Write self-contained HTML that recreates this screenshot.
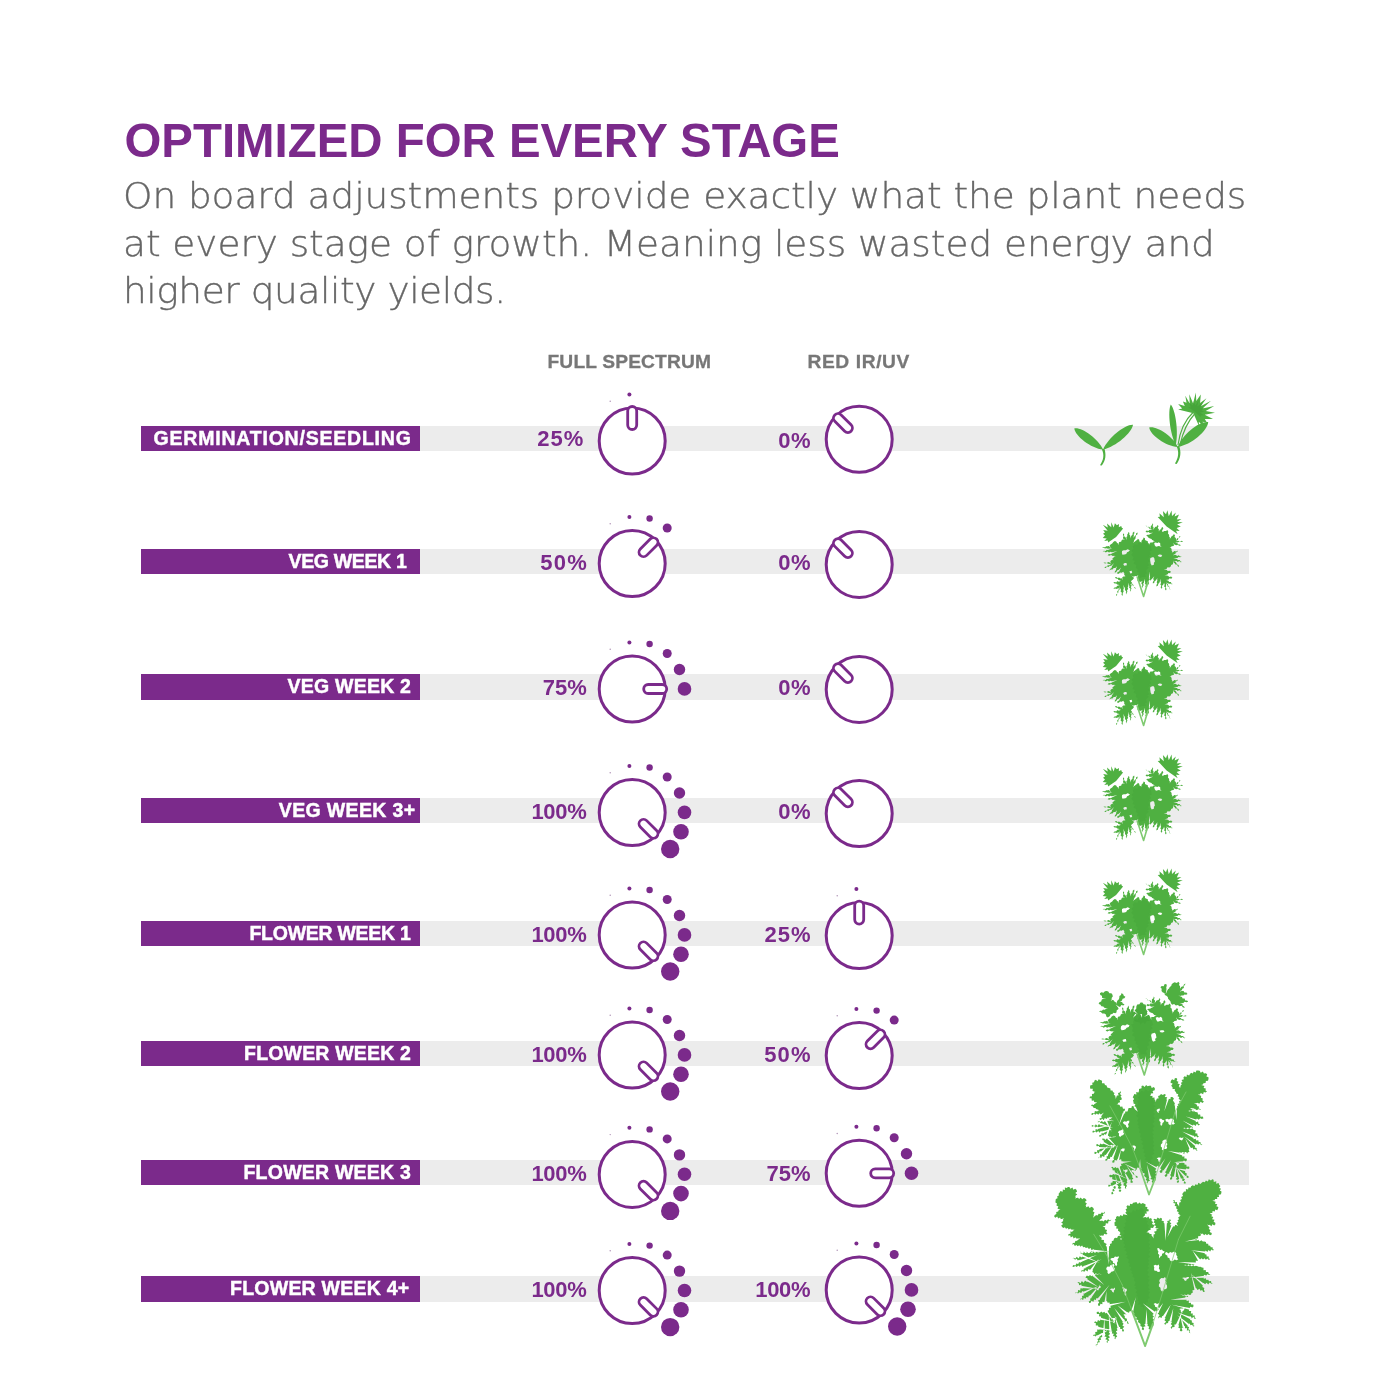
<!DOCTYPE html>
<html lang="en"><head><meta charset="utf-8"><title>Optimized for every stage</title>
<style>
html,body{margin:0;padding:0;background:#fff;}
body{width:1400px;height:1400px;position:relative;overflow:hidden;font-family:"Liberation Sans","DejaVu Sans",sans-serif;}
.abs{position:absolute;white-space:nowrap;}
h1{position:absolute;margin:0;left:124.5px;top:114px;font:bold 47.4px/54px "Liberation Sans",sans-serif;color:#7b2a8b;white-space:nowrap;letter-spacing:0px;}
p.lead{position:absolute;margin:0;left:123px;top:172px;font:200 36px/47.5px "DejaVu Sans","Liberation Sans",sans-serif;color:#666;white-space:nowrap;letter-spacing:-0.06px;-webkit-text-stroke:0.35px #666;transform:scaleX(1.04);transform-origin:0 0;}
.hdr{position:absolute;font:bold 19.2px/20px "Liberation Sans",sans-serif;color:#777;-webkit-text-stroke:0.3px #777;white-space:nowrap;}
.bar{position:absolute;left:141px;width:1108px;height:25.5px;background:#ececec;}
.lab{position:absolute;left:141px;width:278.5px;height:25.5px;background:#7b2a8b;color:#fff;font:bold 19.5px/25.5px "Liberation Sans",sans-serif;letter-spacing:0.65px;-webkit-text-stroke:0.45px #fff;text-align:right;box-sizing:border-box;padding-right:8.5px;white-space:nowrap;}
.pct{position:absolute;letter-spacing:0.3px;font:bold 22px/24px "Liberation Sans",sans-serif;color:#7b2a8b;text-align:right;white-space:nowrap;width:80px;}
svg{position:absolute;left:0;top:0;}
</style></head><body>

<h1>OPTIMIZED FOR EVERY STAGE</h1>
<p class="lead">On board adjustments provide exactly what the plant needs<br>at every stage of growth. Meaning less wasted energy and<br><span style="letter-spacing:-0.4px">higher quality yields.</span></p>
<div class="hdr" style="left:547.5px;top:351.5px;letter-spacing:0.15px">FULL SPECTRUM</div>
<div class="hdr" style="left:807.5px;top:351.5px;letter-spacing:0.6px">RED IR/UV</div>
<div class="bar" style="top:425.5px"></div>
<div class="lab" style="top:425.5px;letter-spacing:0.787px;padding-right:7.86px">GERMINATION/SEEDLING</div>
<div class="pct" style="left:504.4px;top:426.9px;letter-spacing:1.0px">25%</div>
<div class="pct" style="left:731.1px;top:428.8px;letter-spacing:0.5px">0%</div>
<div class="bar" style="top:548.5px"></div>
<div class="lab" style="top:548.5px;letter-spacing:-0.35px;padding-right:13.10px">VEG WEEK 1</div>
<div class="pct" style="left:508.0px;top:550.8px;letter-spacing:1.2px">50%</div>
<div class="pct" style="left:731.1px;top:550.8px;letter-spacing:0.5px">0%</div>
<div class="bar" style="top:674.0px"></div>
<div class="lab" style="top:674.0px;letter-spacing:0.23px;padding-right:8.32px">VEG WEEK 2</div>
<div class="pct" style="left:506.8px;top:676.2px;letter-spacing:0.0px">75%</div>
<div class="pct" style="left:731.1px;top:676.2px;letter-spacing:0.5px">0%</div>
<div class="bar" style="top:797.5px"></div>
<div class="lab" style="top:797.5px;letter-spacing:0.36px;padding-right:3.99px">VEG WEEK 3+</div>
<div class="pct" style="left:506.5px;top:799.8px;letter-spacing:-0.3px">100%</div>
<div class="pct" style="left:731.1px;top:799.8px;letter-spacing:0.5px">0%</div>
<div class="bar" style="top:920.5px"></div>
<div class="lab" style="top:920.5px;letter-spacing:-0.275px;padding-right:8.93px">FLOWER WEEK 1</div>
<div class="pct" style="left:506.5px;top:922.8px;letter-spacing:-0.3px">100%</div>
<div class="pct" style="left:731.6px;top:922.8px;letter-spacing:1.0px">25%</div>
<div class="bar" style="top:1040.5px"></div>
<div class="lab" style="top:1040.5px;letter-spacing:0.175px;padding-right:8.47px">FLOWER WEEK 2</div>
<div class="pct" style="left:506.5px;top:1042.8px;letter-spacing:-0.3px">100%</div>
<div class="pct" style="left:731.8px;top:1042.8px;letter-spacing:1.2px">50%</div>
<div class="bar" style="top:1159.5px"></div>
<div class="lab" style="top:1159.5px;letter-spacing:0.225px;padding-right:8.43px">FLOWER WEEK 3</div>
<div class="pct" style="left:506.5px;top:1161.8px;letter-spacing:-0.3px">100%</div>
<div class="pct" style="left:730.6px;top:1161.8px;letter-spacing:0.0px">75%</div>
<div class="bar" style="top:1276.0px"></div>
<div class="lab" style="top:1276.0px;letter-spacing:0.235px;padding-right:10.11px">FLOWER WEEK 4+</div>
<div class="pct" style="left:506.5px;top:1278.2px;letter-spacing:-0.3px">100%</div>
<div class="pct" style="left:730.3px;top:1278.2px;letter-spacing:-0.3px">100%</div>
<svg width="1400" height="1400" viewBox="0 0 1400 1400">
<g transform="translate(632.2 441.0)"><circle r="33" fill="#fff" stroke="#7b2a8b" stroke-width="3"/><rect x="-4.5" y="-34.5" width="9" height="23" rx="4.5" fill="#fff" stroke="#7b2a8b" stroke-width="2.8" transform="rotate(0)"/><circle cx="-22" cy="-39.8" r="0.7" fill="#a98ab0"/><circle cx="-2.8" cy="-46.6" r="2.0" fill="#7b2a8b"/></g>
<g transform="translate(859.2 439.3)"><circle r="33" fill="#fff" stroke="#7b2a8b" stroke-width="3"/><rect x="-4.5" y="-34.5" width="9" height="23" rx="4.5" fill="#fff" stroke="#7b2a8b" stroke-width="2.8" transform="rotate(-45)"/></g>
<g transform="translate(632.2 563.5)"><circle r="33" fill="#fff" stroke="#7b2a8b" stroke-width="3"/><rect x="-4.5" y="-34.5" width="9" height="23" rx="4.5" fill="#fff" stroke="#7b2a8b" stroke-width="2.8" transform="rotate(45)"/><circle cx="-22" cy="-39.8" r="0.7" fill="#a98ab0"/><circle cx="-2.8" cy="-46.6" r="2.0" fill="#7b2a8b"/><circle cx="17.4" cy="-45.0" r="3.2" fill="#7b2a8b"/><circle cx="35" cy="-35.5" r="4.5" fill="#7b2a8b"/></g>
<g transform="translate(859.2 564.4)"><circle r="33" fill="#fff" stroke="#7b2a8b" stroke-width="3"/><rect x="-4.5" y="-34.5" width="9" height="23" rx="4.5" fill="#fff" stroke="#7b2a8b" stroke-width="2.8" transform="rotate(-45)"/></g>
<g transform="translate(632.2 689.0)"><circle r="33" fill="#fff" stroke="#7b2a8b" stroke-width="3"/><rect x="-4.5" y="-34.5" width="9" height="23" rx="4.5" fill="#fff" stroke="#7b2a8b" stroke-width="2.8" transform="rotate(90)"/><circle cx="-22" cy="-39.8" r="0.7" fill="#a98ab0"/><circle cx="-2.8" cy="-46.6" r="2.0" fill="#7b2a8b"/><circle cx="17.4" cy="-45.0" r="3.2" fill="#7b2a8b"/><circle cx="35" cy="-35.5" r="4.5" fill="#7b2a8b"/><circle cx="47.3" cy="-19.5" r="5.7" fill="#7b2a8b"/><circle cx="52.3" cy="-0.1" r="6.8" fill="#7b2a8b"/></g>
<g transform="translate(859.2 689.4)"><circle r="33" fill="#fff" stroke="#7b2a8b" stroke-width="3"/><rect x="-4.5" y="-34.5" width="9" height="23" rx="4.5" fill="#fff" stroke="#7b2a8b" stroke-width="2.8" transform="rotate(-45)"/></g>
<g transform="translate(632.2 812.5)"><circle r="33" fill="#fff" stroke="#7b2a8b" stroke-width="3"/><rect x="-4.5" y="-34.5" width="9" height="23" rx="4.5" fill="#fff" stroke="#7b2a8b" stroke-width="2.8" transform="rotate(135)"/><circle cx="-22" cy="-39.8" r="0.7" fill="#a98ab0"/><circle cx="-2.8" cy="-46.6" r="2.0" fill="#7b2a8b"/><circle cx="17.4" cy="-45.0" r="3.2" fill="#7b2a8b"/><circle cx="35" cy="-35.5" r="4.5" fill="#7b2a8b"/><circle cx="47.3" cy="-19.5" r="5.7" fill="#7b2a8b"/><circle cx="52.3" cy="-0.1" r="6.8" fill="#7b2a8b"/><circle cx="48.8" cy="19.2" r="7.8" fill="#7b2a8b"/><circle cx="38" cy="36.5" r="9.2" fill="#7b2a8b"/></g>
<g transform="translate(859.2 813.6)"><circle r="33" fill="#fff" stroke="#7b2a8b" stroke-width="3"/><rect x="-4.5" y="-34.5" width="9" height="23" rx="4.5" fill="#fff" stroke="#7b2a8b" stroke-width="2.8" transform="rotate(-45)"/></g>
<g transform="translate(632.2 935.0)"><circle r="33" fill="#fff" stroke="#7b2a8b" stroke-width="3"/><rect x="-4.5" y="-34.5" width="9" height="23" rx="4.5" fill="#fff" stroke="#7b2a8b" stroke-width="2.8" transform="rotate(135)"/><circle cx="-22" cy="-39.8" r="0.7" fill="#a98ab0"/><circle cx="-2.8" cy="-46.6" r="2.0" fill="#7b2a8b"/><circle cx="17.4" cy="-45.0" r="3.2" fill="#7b2a8b"/><circle cx="35" cy="-35.5" r="4.5" fill="#7b2a8b"/><circle cx="47.3" cy="-19.5" r="5.7" fill="#7b2a8b"/><circle cx="52.3" cy="-0.1" r="6.8" fill="#7b2a8b"/><circle cx="48.8" cy="19.2" r="7.8" fill="#7b2a8b"/><circle cx="38" cy="36.5" r="9.2" fill="#7b2a8b"/></g>
<g transform="translate(859.2 935.6)"><circle r="33" fill="#fff" stroke="#7b2a8b" stroke-width="3"/><rect x="-4.5" y="-34.5" width="9" height="23" rx="4.5" fill="#fff" stroke="#7b2a8b" stroke-width="2.8" transform="rotate(0)"/><circle cx="-22" cy="-39.8" r="0.7" fill="#a98ab0"/><circle cx="-2.8" cy="-46.6" r="2.0" fill="#7b2a8b"/></g>
<g transform="translate(632.2 1055.0)"><circle r="33" fill="#fff" stroke="#7b2a8b" stroke-width="3"/><rect x="-4.5" y="-34.5" width="9" height="23" rx="4.5" fill="#fff" stroke="#7b2a8b" stroke-width="2.8" transform="rotate(135)"/><circle cx="-22" cy="-39.8" r="0.7" fill="#a98ab0"/><circle cx="-2.8" cy="-46.6" r="2.0" fill="#7b2a8b"/><circle cx="17.4" cy="-45.0" r="3.2" fill="#7b2a8b"/><circle cx="35" cy="-35.5" r="4.5" fill="#7b2a8b"/><circle cx="47.3" cy="-19.5" r="5.7" fill="#7b2a8b"/><circle cx="52.3" cy="-0.1" r="6.8" fill="#7b2a8b"/><circle cx="48.8" cy="19.2" r="7.8" fill="#7b2a8b"/><circle cx="38" cy="36.5" r="9.2" fill="#7b2a8b"/></g>
<g transform="translate(859.2 1055.6)"><circle r="33" fill="#fff" stroke="#7b2a8b" stroke-width="3"/><rect x="-4.5" y="-34.5" width="9" height="23" rx="4.5" fill="#fff" stroke="#7b2a8b" stroke-width="2.8" transform="rotate(45)"/><circle cx="-22" cy="-39.8" r="0.7" fill="#a98ab0"/><circle cx="-2.8" cy="-46.6" r="2.0" fill="#7b2a8b"/><circle cx="17.4" cy="-45.0" r="3.2" fill="#7b2a8b"/><circle cx="35" cy="-35.5" r="4.5" fill="#7b2a8b"/></g>
<g transform="translate(632.2 1174.4)"><circle r="33" fill="#fff" stroke="#7b2a8b" stroke-width="3"/><rect x="-4.5" y="-34.5" width="9" height="23" rx="4.5" fill="#fff" stroke="#7b2a8b" stroke-width="2.8" transform="rotate(135)"/><circle cx="-22" cy="-39.8" r="0.7" fill="#a98ab0"/><circle cx="-2.8" cy="-46.6" r="2.0" fill="#7b2a8b"/><circle cx="17.4" cy="-45.0" r="3.2" fill="#7b2a8b"/><circle cx="35" cy="-35.5" r="4.5" fill="#7b2a8b"/><circle cx="47.3" cy="-19.5" r="5.7" fill="#7b2a8b"/><circle cx="52.3" cy="-0.1" r="6.8" fill="#7b2a8b"/><circle cx="48.8" cy="19.2" r="7.8" fill="#7b2a8b"/><circle cx="38" cy="36.5" r="9.2" fill="#7b2a8b"/></g>
<g transform="translate(859.2 1173.3)"><circle r="33" fill="#fff" stroke="#7b2a8b" stroke-width="3"/><rect x="-4.5" y="-34.5" width="9" height="23" rx="4.5" fill="#fff" stroke="#7b2a8b" stroke-width="2.8" transform="rotate(90)"/><circle cx="-22" cy="-39.8" r="0.7" fill="#a98ab0"/><circle cx="-2.8" cy="-46.6" r="2.0" fill="#7b2a8b"/><circle cx="17.4" cy="-45.0" r="3.2" fill="#7b2a8b"/><circle cx="35" cy="-35.5" r="4.5" fill="#7b2a8b"/><circle cx="47.3" cy="-19.5" r="5.7" fill="#7b2a8b"/><circle cx="52.3" cy="-0.1" r="6.8" fill="#7b2a8b"/></g>
<g transform="translate(632.2 1290.6)"><circle r="33" fill="#fff" stroke="#7b2a8b" stroke-width="3"/><rect x="-4.5" y="-34.5" width="9" height="23" rx="4.5" fill="#fff" stroke="#7b2a8b" stroke-width="2.8" transform="rotate(135)"/><circle cx="-22" cy="-39.8" r="0.7" fill="#a98ab0"/><circle cx="-2.8" cy="-46.6" r="2.0" fill="#7b2a8b"/><circle cx="17.4" cy="-45.0" r="3.2" fill="#7b2a8b"/><circle cx="35" cy="-35.5" r="4.5" fill="#7b2a8b"/><circle cx="47.3" cy="-19.5" r="5.7" fill="#7b2a8b"/><circle cx="52.3" cy="-0.1" r="6.8" fill="#7b2a8b"/><circle cx="48.8" cy="19.2" r="7.8" fill="#7b2a8b"/><circle cx="38" cy="36.5" r="9.2" fill="#7b2a8b"/></g>
<g transform="translate(859.2 1290.0)"><circle r="33" fill="#fff" stroke="#7b2a8b" stroke-width="3"/><rect x="-4.5" y="-34.5" width="9" height="23" rx="4.5" fill="#fff" stroke="#7b2a8b" stroke-width="2.8" transform="rotate(135)"/><circle cx="-22" cy="-39.8" r="0.7" fill="#a98ab0"/><circle cx="-2.8" cy="-46.6" r="2.0" fill="#7b2a8b"/><circle cx="17.4" cy="-45.0" r="3.2" fill="#7b2a8b"/><circle cx="35" cy="-35.5" r="4.5" fill="#7b2a8b"/><circle cx="47.3" cy="-19.5" r="5.7" fill="#7b2a8b"/><circle cx="52.3" cy="-0.1" r="6.8" fill="#7b2a8b"/><circle cx="48.8" cy="19.2" r="7.8" fill="#7b2a8b"/><circle cx="38" cy="36.5" r="9.2" fill="#7b2a8b"/></g>
<path d="M1103.1,449.6C1098.0,438.4 1081.9,427.1 1074.3,428.4C1075.3,436.0 1090.9,448.1 1103.1,449.6ZM1103.1,449.6C1115.9,446.8 1132.0,432.8 1133.0,424.8C1125.0,424.3 1108.3,437.6 1103.1,449.6ZM1101.9,449.5 C1104.5,455 1103.5,460 1100,465.3 L1101.8,465.6 C1105.8,460 1106.3,455 1104.4,448.5ZM1177.8,446.9C1172.7,436.0 1156.7,425.7 1149.2,427.4C1150.3,435.0 1165.8,446.1 1177.8,446.9ZM1177.8,446.9C1191.4,444.9 1207.7,430.7 1208.2,422.0C1199.5,420.7 1182.5,434.0 1177.8,446.9ZM1175.8,445.0C1178.7,432.3 1175.6,410.0 1170.8,404.4C1167.5,411.0 1169.9,433.4 1175.8,445.0ZM1176.6,446.5 C1179.3,452 1178.5,458 1174.9,463.6 L1176.7,464 C1180.8,458 1181.3,452 1179.2,446Z" fill="#4fb041"/><path d="M1178,445 C1180,430 1185,420 1193,412.5 M1180,445 C1183,431 1188,421 1195,413.5" stroke="#4fb041" stroke-width="1.1" fill="none"/><path d="M1193.4,413.2 1178.1,409.6 1182.2,408.6 1178.1,404.1 1184.8,406.1 1182.9,401.4 1186.5,402.7 1185.3,395.8 1189.7,403.5 1189.3,394.2 1193.1,403.6 1195.8,392.6 1196.3,400.9 1200.8,394.6 1200.1,402.9 1206.5,398.3 1200.7,406.3 1211.0,400.8 1202.5,408.5 1214.2,406.1 1205.7,411.1 1215.0,412.8 1204.7,414.7 1213.0,418.9 1204.8,418.9 1206.9,422.6 1202.6,421.8 1204.5,427.2 1198.8,421.8 1199.2,426.5Z" fill="#4fb041"/><path d="M1194.5,411.5 1188.0,407.1 1190.8,407.4 1189.3,402.8 1192.8,405.6 1193.7,400.9 1195.4,405.4 1198.6,400.4 1197.3,406.6 1203.1,401.9 1200.4,407.7 1204.5,407.7 1201.5,410.3 1204.4,411.8 1200.0,412.5 1203.9,415.3 1200.8,415.4 1200.3,417.1Z" fill="#3b9a32" opacity="0.45"/>
<mask id="pm1" maskUnits="userSpaceOnUse" x="1092" y="501" width="100" height="100"><path d="M1137.9,575.6 1136.6,576.3 1135.1,576.0 1133.8,576.7 1133.9,578.2 1132.9,579.4 1133.3,580.9 1132.2,582.1 1132.2,583.6 1133.3,584.8 1133.7,586.5 1135.2,587.5 1135.9,589.0 1134.5,588.0 1134.0,586.4 1132.5,585.5 1131.7,584.1 1131.9,585.6 1130.8,587.0 1131.5,588.6 1130.8,590.1 1130.9,591.7 1130.0,590.4 1130.5,588.7 1129.0,587.6 1129.3,586.0 1128.4,584.7 1128.8,586.2 1127.6,587.5 1128.2,589.0 1127.0,590.3 1127.4,591.8 1126.6,593.1 1126.6,594.5 1125.8,593.1 1126.2,591.3 1124.9,590.0 1125.1,588.2 1124.2,586.8 1124.4,588.5 1123.2,589.8 1123.7,591.5 1122.7,592.9 1122.8,594.5 1122.3,596.0 1121.5,594.5 1121.9,592.8 1120.6,591.5 1120.9,589.7 1120.2,588.3 1119.9,589.8 1118.4,590.7 1118.4,592.4 1116.9,593.2 1117.2,595.0 1116.0,596.1 1116.2,594.4 1117.5,593.1 1117.2,591.3 1118.6,590.1 1118.6,588.4 1117.0,589.1 1115.1,588.5 1113.4,589.1 1114.4,587.6 1116.3,587.2 1117.3,585.5 1118.9,584.8 1117.3,584.7 1116.2,583.4 1114.6,583.6 1113.3,582.6 1114.7,582.1 1116.2,582.5 1117.4,581.1 1119.0,581.8 1120.3,581.0 1118.6,580.5 1117.8,578.8 1115.9,578.5 1114.9,577.2 1116.3,576.9 1117.6,578.0 1119.1,577.4 1120.4,578.5 1121.8,578.1 1123.2,576.6 1125.3,576.0 1124.2,574.9 1124.3,573.2 1123.1,572.1 1121.7,572.8 1120.0,572.4 1118.8,573.8 1117.2,573.7 1117.5,572.1 1119.3,571.5 1119.3,569.8 1120.4,568.7 1119.2,570.0 1117.3,570.3 1116.3,572.0 1114.8,572.8 1114.9,571.3 1116.1,570.1 1116.1,568.6 1116.9,567.3 1115.5,568.1 1113.7,568.0 1112.5,569.4 1110.8,569.5 1109.5,570.4 1110.0,568.9 1111.6,568.1 1111.7,566.4 1112.7,565.3 1111.4,566.1 1109.8,565.7 1108.7,567.1 1107.0,566.4 1105.9,567.9 1104.3,567.8 1105.3,566.7 1106.9,566.6 1107.7,565.2 1109.4,565.2 1110.3,563.9 1108.4,564.2 1106.9,563.1 1105.1,563.4 1103.4,562.8 1105.0,562.4 1106.7,562.9 1108.3,562.1 1109.9,562.4 1110.7,560.8 1112.1,559.7 1112.6,558.2 1113.9,557.2 1114.5,555.8 1112.7,556.0 1111.1,555.1 1109.3,555.8 1107.6,555.2 1108.9,553.9 1110.9,554.3 1112.1,552.7 1113.8,552.4 1112.2,552.8 1110.7,551.7 1109.0,552.4 1107.5,551.4 1105.8,552.5 1104.3,551.2 1102.7,551.7 1103.8,550.7 1105.6,551.0 1106.7,549.8 1108.3,549.8 1109.6,549.1 1108.0,549.3 1106.6,548.3 1105.0,548.6 1103.6,547.8 1102.0,547.9 1103.4,547.1 1105.0,547.3 1106.3,546.3 1107.9,546.3 1109.3,545.7 1110.6,544.4 1112.2,543.5 1113.3,542.1 1114.8,541.0 1116.2,541.6 1117.1,543.0 1118.4,543.6 1119.2,542.1 1121.1,541.8 1121.8,540.1 1123.2,539.3 1122.9,537.8 1123.6,536.3 1122.9,534.8 1123.3,533.3 1124.2,534.6 1124.0,536.3 1125.8,537.2 1125.8,538.8 1126.0,537.3 1127.3,536.2 1127.2,534.5 1128.2,533.3 1128.5,531.8 1129.4,533.1 1129.3,534.7 1130.7,535.8 1130.7,537.4 1131.3,535.8 1132.6,534.6 1132.7,532.7 1134.1,531.6 1134.5,533.0 1133.7,534.4 1134.3,535.9 1133.8,537.3 1134.6,535.9 1136.0,535.1 1136.1,533.2 1137.6,532.4 1137.5,534.2 1135.9,535.4 1135.7,537.1 1135.4,538.8 1134.1,540.2 1133.9,541.9 1135.0,540.6 1136.9,540.2 1137.9,538.8 1139.2,539.7 1139.5,541.5 1140.9,542.3 1141.5,540.6 1143.0,539.3 1143.6,537.6 1145.0,538.2 1145.0,540.1 1146.5,540.7 1147.8,541.3 1148.0,543.1 1149.3,543.8 1150.5,542.4 1152.6,542.4 1153.8,541.0 1152.4,540.4 1151.5,539.0 1150.0,538.5 1148.5,537.8 1147.6,536.4 1146.2,535.6 1147.5,534.8 1149.1,534.8 1150.2,533.7 1151.7,533.4 1150.0,533.4 1148.8,531.9 1146.9,532.4 1145.5,531.5 1146.6,530.4 1148.5,531.0 1149.4,529.3 1151.0,529.3 1149.5,528.7 1148.5,527.3 1146.9,527.0 1145.9,525.6 1144.4,525.0 1146.1,525.5 1147.2,527.0 1149.2,526.8 1150.4,528.1 1150.5,526.3 1152.1,525.0 1152.3,523.3 1153.2,524.5 1152.6,526.2 1153.7,527.3 1153.9,528.8 1154.8,527.1 1156.9,526.5 1157.7,524.8 1158.5,526.2 1157.7,527.9 1158.9,529.3 1158.7,530.9 1159.5,529.7 1161.1,529.3 1161.5,527.7 1162.8,527.0 1163.3,528.7 1162.1,530.3 1162.6,532.1 1164.1,531.0 1166.0,531.1 1167.4,530.0 1168.3,531.7 1167.9,533.5 1169.1,534.8 1169.2,536.7 1170.3,538.0 1171.3,536.5 1172.9,535.6 1173.9,534.0 1175.0,535.2 1174.5,537.0 1175.8,538.0 1176.1,539.5 1176.9,538.2 1178.7,538.2 1179.1,536.4 1180.5,535.9 1179.9,537.3 1178.4,538.0 1178.1,539.7 1177.1,540.7 1178.6,540.7 1180.0,541.7 1181.7,540.8 1183.2,541.5 1181.5,542.1 1179.6,541.3 1178.0,542.5 1176.3,542.3 1177.8,542.7 1178.2,544.4 1179.9,544.6 1180.9,545.6 1179.2,545.7 1177.8,544.8 1176.1,545.2 1174.6,544.6 1173.5,545.9 1171.7,546.2 1170.5,547.4 1171.6,548.8 1171.6,550.6 1172.5,552.0 1174.2,550.9 1176.2,551.4 1177.9,550.5 1177.3,551.9 1175.7,552.5 1175.6,554.2 1174.2,555.0 1175.8,554.8 1177.1,556.1 1178.8,555.3 1180.1,556.4 1181.7,556.2 1180.3,557.2 1178.5,557.1 1177.2,558.3 1175.5,558.5 1176.9,558.9 1178.0,560.0 1179.7,560.0 1180.6,561.4 1182.0,561.9 1180.6,562.2 1179.2,561.1 1177.8,562.0 1176.4,561.0 1175.0,561.3 1176.4,562.4 1176.7,564.3 1178.5,565.1 1179.1,566.9 1177.8,566.2 1177.1,564.8 1175.5,564.6 1174.7,563.2 1173.3,562.6 1172.9,564.2 1171.2,564.9 1170.7,566.4 1169.4,567.5 1167.5,567.3 1166.5,569.0 1164.8,569.1 1166.5,569.4 1167.7,570.9 1169.6,570.8 1171.0,571.8 1170.0,573.0 1168.3,573.1 1167.6,574.7 1166.2,575.2 1167.9,575.5 1169.2,576.9 1171.1,576.6 1172.4,577.8 1171.2,578.8 1169.5,578.3 1168.5,579.9 1166.9,579.9 1168.3,580.4 1169.1,581.9 1170.9,581.9 1171.5,583.7 1173.1,584.1 1171.5,584.2 1170.1,583.5 1168.6,584.0 1167.1,583.4 1168.1,584.6 1168.3,586.1 1169.6,587.1 1169.7,588.7 1170.8,589.7 1169.4,588.9 1169.3,587.1 1167.6,586.5 1167.3,584.9 1165.9,584.1 1166.4,585.7 1165.7,587.3 1166.5,588.9 1166.0,590.6 1165.0,589.3 1165.4,587.6 1164.1,586.4 1164.6,584.6 1163.8,583.3 1163.5,584.8 1161.9,585.7 1162.3,587.7 1161.1,588.8 1160.7,587.3 1161.3,585.7 1160.3,584.3 1161.0,582.7 1160.5,581.2 1159.8,582.7 1158.3,583.7 1158.0,585.5 1156.5,586.5 1156.4,585.1 1157.3,583.6 1156.6,582.1 1157.3,580.7 1157.2,579.2 1156.4,580.5 1154.7,581.1 1154.3,582.8 1152.9,583.6 1152.8,582.0 1153.9,580.4 1153.0,578.6 1153.7,577.1 1153.0,578.8 1151.1,579.4 1150.1,580.8 1149.5,579.4 1149.8,577.8 1148.8,576.5 1149.1,574.9 1149.4,576.5 1148.8,578.0 1149.4,579.6 1148.4,581.2 1149.0,582.7 1148.8,584.3 1147.4,585.1 1147.2,586.6 1146.3,587.7 1145.3,586.5 1146.0,584.8 1144.7,583.7 1145.1,582.1 1144.4,580.8 1144.3,582.3 1143.2,583.6 1143.7,585.3 1142.7,586.6 1142.6,588.1 1141.7,586.6 1142.5,584.9 1141.3,583.5 1141.5,581.9 1139.7,581.8 1137.9,581.3 1137.3,579.9 1138.1,578.4 1137.3,577.0ZM1116.1,536.9 1108.1,542.6 1107.8,540.5 1104.2,540.9 1106.7,538.5 1102.7,538.1 1105.0,535.5 1103.0,533.7 1105.0,532.5 1103.2,530.0 1107.7,530.8 1102.8,524.8 1107.8,527.6 1107.0,523.5 1111.3,527.3 1111.2,522.2 1113.7,527.5 1114.9,523.3 1116.9,525.3 1119.0,524.0 1118.8,527.2 1121.2,526.0 1121.8,527.7 1123.1,528.6ZM1166.6,526.5 1157.7,516.9 1159.9,516.8 1159.4,513.2 1163.8,517.3 1162.9,511.0 1166.0,514.3 1167.4,510.2 1168.8,516.3 1171.6,510.6 1172.0,515.9 1175.8,512.6 1174.6,516.5 1179.0,514.5 1176.8,519.4 1181.4,519.1 1177.1,521.9 1182.8,522.3 1177.1,524.6 1180.8,526.4 1176.6,527.9 1179.7,530.9 1176.0,530.7 1177.7,534.3Z" fill="#fff"/><path d="M1122.0,551.1 1123.7,550.2 1125.8,550.2 1127.5,549.2 1129.9,550.2 1128.8,551.6 1127.1,552.3 1126.2,553.9 1124.4,554.6 1122.4,554.8 1121.9,553.0ZM1154.2,543.1 1155.6,542.4 1157.4,543.0 1158.8,542.2 1160.3,543.4 1160.2,545.6 1161.6,546.8 1158.8,545.9 1156.0,546.8 1154.7,545.2ZM1150.4,558.1 1153.2,557.1 1154.3,558.3 1154.6,559.9 1154.9,561.5 1153.8,563.0 1154.1,564.6 1151.8,565.5 1150.7,563.8 1150.4,561.8 1150.1,559.9ZM1123.2,563.9 1124.8,563.0 1126.5,562.9 1126.9,565.2 1124.2,565.7ZM1129.4,571.2 1131.7,570.7 1132.2,573.0 1130.3,573.5ZM1130.9,581.2 1132.5,579.8 1134.6,579.8 1135.6,581.8 1136.0,584.0 1133.7,583.5 1132.0,582.7ZM1157.7,555.2 1159.5,554.5 1161.4,554.8 1162.3,556.1 1160.6,557.0 1158.6,556.6ZM1137.3,578.3L1138.3,574.7L1136.3,577.8ZM1136.1,578.1L1131.4,575.5L1135.4,578.9ZM1134.6,583.0L1129.3,584.6L1134.6,584.0ZM1132.9,586.5L1130.9,583.0L1132.0,586.8ZM1129.3,587.3L1128.7,582.4L1128.2,587.5ZM1125.0,589.5L1123.5,584.7L1123.8,589.6ZM1120.4,591.0L1119.8,585.9L1119.5,590.9ZM1116.7,590.3L1119.5,587.9L1116.0,589.2ZM1116.3,585.7L1119.9,585.2L1116.1,584.5ZM1117.5,581.2L1121.3,581.1L1117.7,579.8ZM1120.5,576.4L1122.8,580.2L1121.7,575.9ZM1122.5,576.1L1125.7,576.6L1122.7,574.9ZM1122.2,574.8L1123.8,571.6L1121.1,574.0ZM1119.1,571.1L1121.2,567.4L1118.2,570.3ZM1115.5,569.6L1117.1,566.1L1114.7,569.0ZM1111.1,567.5L1114.1,563.1L1110.3,566.7ZM1107.8,565.1L1111.4,564.2L1107.5,563.8ZM1108.3,560.8L1111.6,564.2L1109.3,560.3ZM1110.3,559.2L1113.7,560.3L1111.0,558.2ZM1112.1,557.3L1115.9,556.0L1111.8,556.2ZM1111.3,553.7L1117.2,550.9L1111.1,552.5ZM1107.0,549.9L1112.4,548.4L1106.8,548.8ZM1108.3,545.1L1110.9,548.5L1109.3,544.5ZM1117.0,541.4L1119.1,545.6L1118.0,541.0ZM1121.0,538.4L1125.1,539.9L1121.7,537.5ZM1125.2,536.1L1126.7,540.2L1126.2,536.1ZM1130.2,534.7L1130.5,538.4L1131.3,534.7ZM1134.0,534.5L1133.4,538.1L1135.2,534.9ZM1135.2,539.5L1133.0,543.1L1136.2,540.4ZM1139.9,539.8L1141.4,543.1L1141.3,539.6ZM1148.7,541.1L1150.0,545.1L1149.9,541.1ZM1151.1,541.2L1155.2,541.4L1151.3,539.8ZM1149.1,534.3L1153.1,532.7L1149.0,532.9ZM1148.3,529.9L1152.8,529.9L1148.3,528.7ZM1149.2,525.6L1150.6,529.8L1150.5,525.3ZM1154.0,526.0L1153.2,530.0L1155.2,526.3ZM1159.2,528.2L1158.9,531.7L1160.1,528.5ZM1163.8,529.6L1162.0,532.3L1164.6,530.2ZM1170.4,535.3L1169.7,539.4L1171.6,535.6ZM1176.1,536.7L1176.6,540.9L1177.2,537.0ZM1179.2,539.0L1175.8,541.2L1179.8,540.2ZM1179.0,542.5L1175.0,542.6L1178.7,543.7ZM1175.9,546.4L1172.8,542.5L1174.9,546.8ZM1173.3,547.4L1169.5,547.6L1173.0,548.7ZM1173.7,549.5L1171.7,553.0L1174.8,550.4ZM1176.4,553.3L1172.7,555.3L1176.9,554.4ZM1178.2,558.0L1173.3,558.1L1178.1,559.2ZM1177.6,562.1L1173.9,561.1L1177.1,563.0ZM1174.3,565.2L1173.1,560.3L1173.2,565.3ZM1167.5,568.9L1163.3,569.3L1167.4,569.8ZM1168.8,574.2L1164.5,575.2L1169.0,575.4ZM1169.6,579.4L1165.6,579.9L1169.6,580.6ZM1169.7,584.3L1166.1,582.2L1169.2,585.2ZM1167.5,586.4L1166.1,582.7L1166.1,586.9ZM1164.0,586.0L1164.4,582.5L1162.9,585.9ZM1160.3,584.0L1160.8,578.6L1159.2,583.6ZM1156.6,581.9L1157.4,578.0L1155.4,581.3ZM1152.8,579.7L1154.3,576.2L1151.9,579.1ZM1150.0,577.3L1149.4,571.4L1149.0,577.5ZM1145.2,583.5L1144.8,578.8L1143.8,583.5ZM1140.4,583.6L1142.9,580.8L1139.5,582.5Z" fill="#000"/></mask><g mask="url(#pm1)"><rect x="1092" y="501" width="100" height="100" fill="#4fb041"/><path d="M1134.3,544.2 1137.2,544.9 1138.6,542.8 1141.3,544.1 1143.4,541.1 1144.8,542.4 1147.4,543.3 1147.7,545.6 1150.7,545.7 1151.1,547.7 1151.7,550.7 1149.6,551.2 1151.0,554.5 1148.8,554.9 1150.0,556.3 1148.2,558.7 1149.8,561.7 1147.6,562.5 1149.3,565.2 1147.3,566.2 1148.7,567.8 1146.0,570.2 1146.8,573.5 1144.9,574.2 1146.0,577.1 1142.7,576.7 1139.4,577.9 1140.4,576.0 1138.6,574.7 1139.2,572.4 1137.1,571.9 1137.8,569.0 1135.9,567.9 1136.3,565.1 1133.5,563.5 1135.1,561.0 1132.6,560.0 1133.7,557.0 1131.3,554.8 1133.0,552.7 1131.5,550.4 1133.7,549.1 1132.9,546.8Z" fill="#3b9a32" opacity="0.25"/></g><path d="M1143.6,596.4L1137.2,577.1M1143.6,596.4L1147.9,582.1" stroke="#7fca70" stroke-width="1.6" fill="none" stroke-linecap="round"/>
<mask id="pm2" maskUnits="userSpaceOnUse" x="1092" y="630" width="100" height="100"><path d="M1137.9,704.6 1136.6,705.3 1135.1,705.0 1133.8,705.7 1133.9,707.2 1132.9,708.4 1133.3,709.9 1132.2,711.1 1132.2,712.6 1133.3,713.8 1133.7,715.5 1135.2,716.5 1135.9,718.0 1134.5,717.0 1134.0,715.4 1132.5,714.5 1131.7,713.1 1131.9,714.6 1130.8,716.0 1131.5,717.6 1130.8,719.1 1130.9,720.7 1130.0,719.4 1130.5,717.7 1129.0,716.6 1129.3,715.0 1128.4,713.7 1128.8,715.2 1127.6,716.5 1128.2,718.0 1127.0,719.3 1127.4,720.8 1126.6,722.1 1126.6,723.5 1125.8,722.1 1126.2,720.3 1124.9,719.0 1125.1,717.2 1124.2,715.8 1124.4,717.5 1123.2,718.8 1123.7,720.5 1122.7,721.9 1122.8,723.5 1122.3,725.0 1121.5,723.5 1121.9,721.8 1120.6,720.5 1120.9,718.7 1120.2,717.3 1119.9,718.8 1118.4,719.7 1118.4,721.4 1116.9,722.2 1117.2,724.0 1116.0,725.1 1116.2,723.4 1117.5,722.1 1117.2,720.3 1118.6,719.1 1118.6,717.4 1117.0,718.1 1115.1,717.5 1113.4,718.1 1114.4,716.6 1116.3,716.2 1117.3,714.5 1118.9,713.8 1117.3,713.7 1116.2,712.4 1114.6,712.6 1113.3,711.6 1114.7,711.1 1116.2,711.5 1117.4,710.1 1119.0,710.8 1120.3,710.0 1118.6,709.5 1117.8,707.8 1115.9,707.5 1114.9,706.2 1116.3,705.9 1117.6,707.0 1119.1,706.4 1120.4,707.5 1121.8,707.1 1123.2,705.6 1125.3,705.0 1124.2,703.9 1124.3,702.2 1123.1,701.1 1121.7,701.8 1120.0,701.4 1118.8,702.8 1117.2,702.7 1117.5,701.1 1119.3,700.5 1119.3,698.8 1120.4,697.7 1119.2,699.0 1117.3,699.3 1116.3,701.0 1114.8,701.8 1114.9,700.3 1116.1,699.1 1116.1,697.6 1116.9,696.3 1115.5,697.1 1113.7,697.0 1112.5,698.4 1110.8,698.5 1109.5,699.4 1110.0,697.9 1111.6,697.1 1111.7,695.4 1112.7,694.3 1111.4,695.1 1109.8,694.7 1108.7,696.1 1107.0,695.4 1105.9,696.9 1104.3,696.8 1105.3,695.7 1106.9,695.6 1107.7,694.2 1109.4,694.2 1110.3,692.9 1108.4,693.2 1106.9,692.1 1105.1,692.4 1103.4,691.8 1105.0,691.4 1106.7,691.9 1108.3,691.1 1109.9,691.4 1110.7,689.8 1112.1,688.7 1112.6,687.2 1113.9,686.2 1114.5,684.8 1112.7,685.0 1111.1,684.1 1109.3,684.8 1107.6,684.2 1108.9,682.9 1110.9,683.3 1112.1,681.7 1113.8,681.4 1112.2,681.8 1110.7,680.7 1109.0,681.4 1107.5,680.4 1105.8,681.5 1104.3,680.2 1102.7,680.7 1103.8,679.7 1105.6,680.0 1106.7,678.8 1108.3,678.8 1109.6,678.1 1108.0,678.3 1106.6,677.3 1105.0,677.6 1103.6,676.8 1102.0,676.9 1103.4,676.1 1105.0,676.3 1106.3,675.3 1107.9,675.3 1109.3,674.7 1110.6,673.4 1112.2,672.5 1113.3,671.1 1114.8,670.0 1116.2,670.6 1117.1,672.0 1118.4,672.6 1119.2,671.1 1121.1,670.8 1121.8,669.1 1123.2,668.3 1122.9,666.8 1123.6,665.3 1122.9,663.8 1123.3,662.3 1124.2,663.6 1124.0,665.3 1125.8,666.2 1125.8,667.8 1126.0,666.3 1127.3,665.2 1127.2,663.5 1128.2,662.3 1128.5,660.8 1129.4,662.1 1129.3,663.7 1130.7,664.8 1130.7,666.4 1131.3,664.8 1132.6,663.6 1132.7,661.7 1134.1,660.6 1134.5,662.0 1133.7,663.4 1134.3,664.9 1133.8,666.3 1134.6,664.9 1136.0,664.1 1136.1,662.2 1137.6,661.4 1137.5,663.2 1135.9,664.4 1135.7,666.1 1135.4,667.8 1134.1,669.2 1133.9,670.9 1135.0,669.6 1136.9,669.2 1137.9,667.8 1139.2,668.7 1139.5,670.5 1140.9,671.3 1141.5,669.6 1143.0,668.3 1143.6,666.6 1145.0,667.2 1145.0,669.1 1146.5,669.7 1147.8,670.3 1148.0,672.1 1149.3,672.8 1150.5,671.4 1152.6,671.4 1153.8,670.0 1152.4,669.4 1151.5,668.0 1150.0,667.5 1148.5,666.8 1147.6,665.4 1146.2,664.6 1147.5,663.8 1149.1,663.8 1150.2,662.7 1151.7,662.4 1150.0,662.4 1148.8,660.9 1146.9,661.4 1145.5,660.5 1146.6,659.4 1148.5,660.0 1149.4,658.3 1151.0,658.3 1149.5,657.7 1148.5,656.3 1146.9,656.0 1145.9,654.6 1144.4,654.0 1146.1,654.5 1147.2,656.0 1149.2,655.8 1150.4,657.1 1150.5,655.3 1152.1,654.0 1152.3,652.3 1153.2,653.5 1152.6,655.2 1153.7,656.3 1153.9,657.8 1154.8,656.1 1156.9,655.5 1157.7,653.8 1158.5,655.2 1157.7,656.9 1158.9,658.3 1158.7,659.9 1159.5,658.7 1161.1,658.3 1161.5,656.7 1162.8,656.0 1163.3,657.7 1162.1,659.3 1162.6,661.1 1164.1,660.0 1166.0,660.1 1167.4,659.0 1168.3,660.7 1167.9,662.5 1169.1,663.8 1169.2,665.7 1170.3,667.0 1171.3,665.5 1172.9,664.6 1173.9,663.0 1175.0,664.2 1174.5,666.0 1175.8,667.0 1176.1,668.5 1176.9,667.2 1178.7,667.2 1179.1,665.4 1180.5,664.9 1179.9,666.3 1178.4,667.0 1178.1,668.7 1177.1,669.7 1178.6,669.7 1180.0,670.7 1181.7,669.8 1183.2,670.5 1181.5,671.1 1179.6,670.3 1178.0,671.5 1176.3,671.3 1177.8,671.7 1178.2,673.4 1179.9,673.6 1180.9,674.6 1179.2,674.7 1177.8,673.8 1176.1,674.2 1174.6,673.6 1173.5,674.9 1171.7,675.2 1170.5,676.4 1171.6,677.8 1171.6,679.6 1172.5,681.0 1174.2,679.9 1176.2,680.4 1177.9,679.5 1177.3,680.9 1175.7,681.5 1175.6,683.2 1174.2,684.0 1175.8,683.8 1177.1,685.1 1178.8,684.3 1180.1,685.4 1181.7,685.2 1180.3,686.2 1178.5,686.1 1177.2,687.3 1175.5,687.5 1176.9,687.9 1178.0,689.0 1179.7,689.0 1180.6,690.4 1182.0,690.9 1180.6,691.2 1179.2,690.1 1177.8,691.0 1176.4,690.0 1175.0,690.3 1176.4,691.4 1176.7,693.3 1178.5,694.1 1179.1,695.9 1177.8,695.2 1177.1,693.8 1175.5,693.6 1174.7,692.2 1173.3,691.6 1172.9,693.2 1171.2,693.9 1170.7,695.4 1169.4,696.5 1167.5,696.3 1166.5,698.0 1164.8,698.1 1166.5,698.4 1167.7,699.9 1169.6,699.8 1171.0,700.8 1170.0,702.0 1168.3,702.1 1167.6,703.7 1166.2,704.2 1167.9,704.5 1169.2,705.9 1171.1,705.6 1172.4,706.8 1171.2,707.8 1169.5,707.3 1168.5,708.9 1166.9,708.9 1168.3,709.4 1169.1,710.9 1170.9,710.9 1171.5,712.7 1173.1,713.1 1171.5,713.2 1170.1,712.5 1168.6,713.0 1167.1,712.4 1168.1,713.6 1168.3,715.1 1169.6,716.1 1169.7,717.7 1170.8,718.7 1169.4,717.9 1169.3,716.1 1167.6,715.5 1167.3,713.9 1165.9,713.1 1166.4,714.7 1165.7,716.3 1166.5,717.9 1166.0,719.6 1165.0,718.3 1165.4,716.6 1164.1,715.4 1164.6,713.6 1163.8,712.3 1163.5,713.8 1161.9,714.7 1162.3,716.7 1161.1,717.8 1160.7,716.3 1161.3,714.7 1160.3,713.3 1161.0,711.7 1160.5,710.2 1159.8,711.7 1158.3,712.7 1158.0,714.5 1156.5,715.5 1156.4,714.1 1157.3,712.6 1156.6,711.1 1157.3,709.7 1157.2,708.2 1156.4,709.5 1154.7,710.1 1154.3,711.8 1152.9,712.6 1152.8,711.0 1153.9,709.4 1153.0,707.6 1153.7,706.1 1153.0,707.8 1151.1,708.4 1150.1,709.8 1149.5,708.4 1149.8,706.8 1148.8,705.5 1149.1,703.9 1149.4,705.5 1148.8,707.0 1149.4,708.6 1148.4,710.2 1149.0,711.7 1148.8,713.3 1147.4,714.1 1147.2,715.6 1146.3,716.7 1145.3,715.5 1146.0,713.8 1144.7,712.7 1145.1,711.1 1144.4,709.8 1144.3,711.3 1143.2,712.6 1143.7,714.3 1142.7,715.6 1142.6,717.1 1141.7,715.6 1142.5,713.9 1141.3,712.5 1141.5,710.9 1139.7,710.8 1137.9,710.3 1137.3,708.9 1138.1,707.4 1137.3,706.0ZM1116.1,665.9 1108.1,671.6 1107.8,669.5 1104.2,669.9 1106.7,667.5 1102.7,667.1 1105.0,664.5 1103.0,662.7 1105.0,661.5 1103.2,659.0 1107.7,659.8 1102.8,653.8 1107.8,656.6 1107.0,652.5 1111.3,656.3 1111.2,651.2 1113.7,656.5 1114.9,652.3 1116.9,654.3 1119.0,653.0 1118.8,656.2 1121.2,655.0 1121.8,656.7 1123.1,657.6ZM1166.6,655.5 1157.7,645.9 1159.9,645.8 1159.4,642.2 1163.8,646.3 1162.9,640.0 1166.0,643.3 1167.4,639.2 1168.8,645.3 1171.6,639.6 1172.0,644.9 1175.8,641.6 1174.6,645.5 1179.0,643.5 1176.8,648.4 1181.4,648.1 1177.1,650.9 1182.8,651.3 1177.1,653.6 1180.8,655.4 1176.6,656.9 1179.7,659.9 1176.0,659.7 1177.7,663.3Z" fill="#fff"/><path d="M1122.0,680.1 1123.7,679.2 1125.8,679.2 1127.5,678.2 1129.9,679.2 1128.8,680.6 1127.1,681.3 1126.2,682.9 1124.4,683.6 1122.4,683.8 1121.9,682.0ZM1154.2,672.1 1155.6,671.4 1157.4,672.0 1158.8,671.2 1160.3,672.4 1160.2,674.6 1161.6,675.8 1158.8,674.9 1156.0,675.8 1154.7,674.2ZM1150.4,687.1 1153.2,686.1 1154.3,687.3 1154.6,688.9 1154.9,690.5 1153.8,692.0 1154.1,693.6 1151.8,694.5 1150.7,692.8 1150.4,690.8 1150.1,688.9ZM1123.2,692.9 1124.8,692.0 1126.5,691.9 1126.9,694.2 1124.2,694.7ZM1129.4,700.2 1131.7,699.7 1132.2,702.0 1130.3,702.5ZM1130.9,710.2 1132.5,708.8 1134.6,708.8 1135.6,710.8 1136.0,713.0 1133.7,712.5 1132.0,711.7ZM1157.7,684.2 1159.5,683.5 1161.4,683.8 1162.3,685.1 1160.6,686.0 1158.6,685.6ZM1137.3,707.3L1138.3,703.7L1136.3,706.8ZM1136.1,707.1L1131.4,704.5L1135.4,707.9ZM1134.6,712.0L1129.3,713.6L1134.6,713.0ZM1132.9,715.5L1130.9,712.0L1132.0,715.8ZM1129.3,716.3L1128.7,711.4L1128.2,716.5ZM1125.0,718.5L1123.5,713.7L1123.8,718.6ZM1120.4,720.0L1119.8,714.9L1119.5,719.9ZM1116.7,719.3L1119.5,716.9L1116.0,718.2ZM1116.3,714.7L1119.9,714.2L1116.1,713.5ZM1117.5,710.2L1121.3,710.1L1117.7,708.8ZM1120.5,705.4L1122.8,709.2L1121.7,704.9ZM1122.5,705.1L1125.7,705.6L1122.7,703.9ZM1122.2,703.8L1123.8,700.6L1121.1,703.0ZM1119.1,700.1L1121.2,696.4L1118.2,699.3ZM1115.5,698.6L1117.1,695.1L1114.7,698.0ZM1111.1,696.5L1114.1,692.1L1110.3,695.7ZM1107.8,694.1L1111.4,693.2L1107.5,692.8ZM1108.3,689.8L1111.6,693.2L1109.3,689.3ZM1110.3,688.2L1113.7,689.3L1111.0,687.2ZM1112.1,686.3L1115.9,685.0L1111.8,685.2ZM1111.3,682.7L1117.2,679.9L1111.1,681.5ZM1107.0,678.9L1112.4,677.4L1106.8,677.8ZM1108.3,674.1L1110.9,677.5L1109.3,673.5ZM1117.0,670.4L1119.1,674.6L1118.0,670.0ZM1121.0,667.4L1125.1,668.9L1121.7,666.5ZM1125.2,665.1L1126.7,669.2L1126.2,665.1ZM1130.2,663.7L1130.5,667.4L1131.3,663.7ZM1134.0,663.5L1133.4,667.1L1135.2,663.9ZM1135.2,668.5L1133.0,672.1L1136.2,669.4ZM1139.9,668.8L1141.4,672.1L1141.3,668.6ZM1148.7,670.1L1150.0,674.1L1149.9,670.1ZM1151.1,670.2L1155.2,670.4L1151.3,668.8ZM1149.1,663.3L1153.1,661.7L1149.0,661.9ZM1148.3,658.9L1152.8,658.9L1148.3,657.7ZM1149.2,654.6L1150.6,658.8L1150.5,654.3ZM1154.0,655.0L1153.2,659.0L1155.2,655.3ZM1159.2,657.2L1158.9,660.7L1160.1,657.5ZM1163.8,658.6L1162.0,661.3L1164.6,659.2ZM1170.4,664.3L1169.7,668.4L1171.6,664.6ZM1176.1,665.7L1176.6,669.9L1177.2,666.0ZM1179.2,668.0L1175.8,670.2L1179.8,669.2ZM1179.0,671.5L1175.0,671.6L1178.7,672.7ZM1175.9,675.4L1172.8,671.5L1174.9,675.8ZM1173.3,676.4L1169.5,676.6L1173.0,677.7ZM1173.7,678.5L1171.7,682.0L1174.8,679.4ZM1176.4,682.3L1172.7,684.3L1176.9,683.4ZM1178.2,687.0L1173.3,687.1L1178.1,688.2ZM1177.6,691.1L1173.9,690.1L1177.1,692.0ZM1174.3,694.2L1173.1,689.3L1173.2,694.3ZM1167.5,697.9L1163.3,698.3L1167.4,698.8ZM1168.8,703.2L1164.5,704.2L1169.0,704.4ZM1169.6,708.4L1165.6,708.9L1169.6,709.6ZM1169.7,713.3L1166.1,711.2L1169.2,714.2ZM1167.5,715.4L1166.1,711.7L1166.1,715.9ZM1164.0,715.0L1164.4,711.5L1162.9,714.9ZM1160.3,713.0L1160.8,707.6L1159.2,712.6ZM1156.6,710.9L1157.4,707.0L1155.4,710.3ZM1152.8,708.7L1154.3,705.2L1151.9,708.1ZM1150.0,706.3L1149.4,700.4L1149.0,706.5ZM1145.2,712.5L1144.8,707.8L1143.8,712.5ZM1140.4,712.6L1142.9,709.8L1139.5,711.5Z" fill="#000"/></mask><g mask="url(#pm2)"><rect x="1092" y="630" width="100" height="100" fill="#4fb041"/><path d="M1134.3,673.2 1137.2,673.9 1138.6,671.8 1141.3,673.1 1143.4,670.1 1144.8,671.4 1147.4,672.3 1147.7,674.6 1150.7,674.7 1151.1,676.7 1151.7,679.7 1149.6,680.2 1151.0,683.5 1148.8,683.9 1150.0,685.3 1148.2,687.7 1149.8,690.7 1147.6,691.5 1149.3,694.2 1147.3,695.2 1148.7,696.8 1146.0,699.2 1146.8,702.5 1144.9,703.2 1146.0,706.1 1142.7,705.7 1139.4,706.9 1140.4,705.0 1138.6,703.7 1139.2,701.4 1137.1,700.9 1137.8,698.0 1135.9,696.9 1136.3,694.1 1133.5,692.5 1135.1,690.0 1132.6,689.0 1133.7,686.0 1131.3,683.8 1133.0,681.7 1131.5,679.4 1133.7,678.1 1132.9,675.8Z" fill="#3b9a32" opacity="0.25"/></g><path d="M1143.6,725.4L1137.2,706.1M1143.6,725.4L1147.9,711.1" stroke="#7fca70" stroke-width="1.6" fill="none" stroke-linecap="round"/>
<mask id="pm3" maskUnits="userSpaceOnUse" x="1092" y="745" width="100" height="100"><path d="M1137.9,819.6 1136.6,820.3 1135.1,820.0 1133.8,820.7 1133.9,822.2 1132.9,823.4 1133.3,824.9 1132.2,826.1 1132.2,827.6 1133.3,828.8 1133.7,830.5 1135.2,831.5 1135.9,833.0 1134.5,832.0 1134.0,830.4 1132.5,829.5 1131.7,828.1 1131.9,829.6 1130.8,831.0 1131.5,832.6 1130.8,834.1 1130.9,835.7 1130.0,834.4 1130.5,832.7 1129.0,831.6 1129.3,830.0 1128.4,828.7 1128.8,830.2 1127.6,831.5 1128.2,833.0 1127.0,834.3 1127.4,835.8 1126.6,837.1 1126.6,838.5 1125.8,837.1 1126.2,835.3 1124.9,834.0 1125.1,832.2 1124.2,830.8 1124.4,832.5 1123.2,833.8 1123.7,835.5 1122.7,836.9 1122.8,838.5 1122.3,840.0 1121.5,838.5 1121.9,836.8 1120.6,835.5 1120.9,833.7 1120.2,832.3 1119.9,833.8 1118.4,834.7 1118.4,836.4 1116.9,837.2 1117.2,839.0 1116.0,840.1 1116.2,838.4 1117.5,837.1 1117.2,835.3 1118.6,834.1 1118.6,832.4 1117.0,833.1 1115.1,832.5 1113.4,833.1 1114.4,831.6 1116.3,831.2 1117.3,829.5 1118.9,828.8 1117.3,828.7 1116.2,827.4 1114.6,827.6 1113.3,826.6 1114.7,826.1 1116.2,826.5 1117.4,825.1 1119.0,825.8 1120.3,825.0 1118.6,824.5 1117.8,822.8 1115.9,822.5 1114.9,821.2 1116.3,820.9 1117.6,822.0 1119.1,821.4 1120.4,822.5 1121.8,822.1 1123.2,820.6 1125.3,820.0 1124.2,818.9 1124.3,817.2 1123.1,816.1 1121.7,816.8 1120.0,816.4 1118.8,817.8 1117.2,817.7 1117.5,816.1 1119.3,815.5 1119.3,813.8 1120.4,812.7 1119.2,814.0 1117.3,814.3 1116.3,816.0 1114.8,816.8 1114.9,815.3 1116.1,814.1 1116.1,812.6 1116.9,811.3 1115.5,812.1 1113.7,812.0 1112.5,813.4 1110.8,813.5 1109.5,814.4 1110.0,812.9 1111.6,812.1 1111.7,810.4 1112.7,809.3 1111.4,810.1 1109.8,809.7 1108.7,811.1 1107.0,810.4 1105.9,811.9 1104.3,811.8 1105.3,810.7 1106.9,810.6 1107.7,809.2 1109.4,809.2 1110.3,807.9 1108.4,808.2 1106.9,807.1 1105.1,807.4 1103.4,806.8 1105.0,806.4 1106.7,806.9 1108.3,806.1 1109.9,806.4 1110.7,804.8 1112.1,803.7 1112.6,802.2 1113.9,801.2 1114.5,799.8 1112.7,800.0 1111.1,799.1 1109.3,799.8 1107.6,799.2 1108.9,797.9 1110.9,798.3 1112.1,796.7 1113.8,796.4 1112.2,796.8 1110.7,795.7 1109.0,796.4 1107.5,795.4 1105.8,796.5 1104.3,795.2 1102.7,795.7 1103.8,794.7 1105.6,795.0 1106.7,793.8 1108.3,793.8 1109.6,793.1 1108.0,793.3 1106.6,792.3 1105.0,792.6 1103.6,791.8 1102.0,791.9 1103.4,791.1 1105.0,791.3 1106.3,790.3 1107.9,790.3 1109.3,789.7 1110.6,788.4 1112.2,787.5 1113.3,786.1 1114.8,785.0 1116.2,785.6 1117.1,787.0 1118.4,787.6 1119.2,786.1 1121.1,785.8 1121.8,784.1 1123.2,783.3 1122.9,781.8 1123.6,780.3 1122.9,778.8 1123.3,777.3 1124.2,778.6 1124.0,780.3 1125.8,781.2 1125.8,782.8 1126.0,781.3 1127.3,780.2 1127.2,778.5 1128.2,777.3 1128.5,775.8 1129.4,777.1 1129.3,778.7 1130.7,779.8 1130.7,781.4 1131.3,779.8 1132.6,778.6 1132.7,776.7 1134.1,775.6 1134.5,777.0 1133.7,778.4 1134.3,779.9 1133.8,781.3 1134.6,779.9 1136.0,779.1 1136.1,777.2 1137.6,776.4 1137.5,778.2 1135.9,779.4 1135.7,781.1 1135.4,782.8 1134.1,784.2 1133.9,785.9 1135.0,784.6 1136.9,784.2 1137.9,782.8 1139.2,783.7 1139.5,785.5 1140.9,786.3 1141.5,784.6 1143.0,783.3 1143.6,781.6 1145.0,782.2 1145.0,784.1 1146.5,784.7 1147.8,785.3 1148.0,787.1 1149.3,787.8 1150.5,786.4 1152.6,786.4 1153.8,785.0 1152.4,784.4 1151.5,783.0 1150.0,782.5 1148.5,781.8 1147.6,780.4 1146.2,779.6 1147.5,778.8 1149.1,778.8 1150.2,777.7 1151.7,777.4 1150.0,777.4 1148.8,775.9 1146.9,776.4 1145.5,775.5 1146.6,774.4 1148.5,775.0 1149.4,773.3 1151.0,773.3 1149.5,772.7 1148.5,771.3 1146.9,771.0 1145.9,769.6 1144.4,769.0 1146.1,769.5 1147.2,771.0 1149.2,770.8 1150.4,772.1 1150.5,770.3 1152.1,769.0 1152.3,767.3 1153.2,768.5 1152.6,770.2 1153.7,771.3 1153.9,772.8 1154.8,771.1 1156.9,770.5 1157.7,768.8 1158.5,770.2 1157.7,771.9 1158.9,773.3 1158.7,774.9 1159.5,773.7 1161.1,773.3 1161.5,771.7 1162.8,771.0 1163.3,772.7 1162.1,774.3 1162.6,776.1 1164.1,775.0 1166.0,775.1 1167.4,774.0 1168.3,775.7 1167.9,777.5 1169.1,778.8 1169.2,780.7 1170.3,782.0 1171.3,780.5 1172.9,779.6 1173.9,778.0 1175.0,779.2 1174.5,781.0 1175.8,782.0 1176.1,783.5 1176.9,782.2 1178.7,782.2 1179.1,780.4 1180.5,779.9 1179.9,781.3 1178.4,782.0 1178.1,783.7 1177.1,784.7 1178.6,784.7 1180.0,785.7 1181.7,784.8 1183.2,785.5 1181.5,786.1 1179.6,785.3 1178.0,786.5 1176.3,786.3 1177.8,786.7 1178.2,788.4 1179.9,788.6 1180.9,789.6 1179.2,789.7 1177.8,788.8 1176.1,789.2 1174.6,788.6 1173.5,789.9 1171.7,790.2 1170.5,791.4 1171.6,792.8 1171.6,794.6 1172.5,796.0 1174.2,794.9 1176.2,795.4 1177.9,794.5 1177.3,795.9 1175.7,796.5 1175.6,798.2 1174.2,799.0 1175.8,798.8 1177.1,800.1 1178.8,799.3 1180.1,800.4 1181.7,800.2 1180.3,801.2 1178.5,801.1 1177.2,802.3 1175.5,802.5 1176.9,802.9 1178.0,804.0 1179.7,804.0 1180.6,805.4 1182.0,805.9 1180.6,806.2 1179.2,805.1 1177.8,806.0 1176.4,805.0 1175.0,805.3 1176.4,806.4 1176.7,808.3 1178.5,809.1 1179.1,810.9 1177.8,810.2 1177.1,808.8 1175.5,808.6 1174.7,807.2 1173.3,806.6 1172.9,808.2 1171.2,808.9 1170.7,810.4 1169.4,811.5 1167.5,811.3 1166.5,813.0 1164.8,813.1 1166.5,813.4 1167.7,814.9 1169.6,814.8 1171.0,815.8 1170.0,817.0 1168.3,817.1 1167.6,818.7 1166.2,819.2 1167.9,819.5 1169.2,820.9 1171.1,820.6 1172.4,821.8 1171.2,822.8 1169.5,822.3 1168.5,823.9 1166.9,823.9 1168.3,824.4 1169.1,825.9 1170.9,825.9 1171.5,827.7 1173.1,828.1 1171.5,828.2 1170.1,827.5 1168.6,828.0 1167.1,827.4 1168.1,828.6 1168.3,830.1 1169.6,831.1 1169.7,832.7 1170.8,833.7 1169.4,832.9 1169.3,831.1 1167.6,830.5 1167.3,828.9 1165.9,828.1 1166.4,829.7 1165.7,831.3 1166.5,832.9 1166.0,834.6 1165.0,833.3 1165.4,831.6 1164.1,830.4 1164.6,828.6 1163.8,827.3 1163.5,828.8 1161.9,829.7 1162.3,831.7 1161.1,832.8 1160.7,831.3 1161.3,829.7 1160.3,828.3 1161.0,826.7 1160.5,825.2 1159.8,826.7 1158.3,827.7 1158.0,829.5 1156.5,830.5 1156.4,829.1 1157.3,827.6 1156.6,826.1 1157.3,824.7 1157.2,823.2 1156.4,824.5 1154.7,825.1 1154.3,826.8 1152.9,827.6 1152.8,826.0 1153.9,824.4 1153.0,822.6 1153.7,821.1 1153.0,822.8 1151.1,823.4 1150.1,824.8 1149.5,823.4 1149.8,821.8 1148.8,820.5 1149.1,818.9 1149.4,820.5 1148.8,822.0 1149.4,823.6 1148.4,825.2 1149.0,826.7 1148.8,828.3 1147.4,829.1 1147.2,830.6 1146.3,831.7 1145.3,830.5 1146.0,828.8 1144.7,827.7 1145.1,826.1 1144.4,824.8 1144.3,826.3 1143.2,827.6 1143.7,829.3 1142.7,830.6 1142.6,832.1 1141.7,830.6 1142.5,828.9 1141.3,827.5 1141.5,825.9 1139.7,825.8 1137.9,825.3 1137.3,823.9 1138.1,822.4 1137.3,821.0ZM1116.1,780.9 1108.1,786.6 1107.8,784.5 1104.2,784.9 1106.7,782.5 1102.7,782.1 1105.0,779.5 1103.0,777.7 1105.0,776.5 1103.2,774.0 1107.7,774.8 1102.8,768.8 1107.8,771.6 1107.0,767.5 1111.3,771.3 1111.2,766.2 1113.7,771.5 1114.9,767.3 1116.9,769.3 1119.0,768.0 1118.8,771.2 1121.2,770.0 1121.8,771.7 1123.1,772.6ZM1166.6,770.5 1157.7,760.9 1159.9,760.8 1159.4,757.2 1163.8,761.3 1162.9,755.0 1166.0,758.3 1167.4,754.2 1168.8,760.3 1171.6,754.6 1172.0,759.9 1175.8,756.6 1174.6,760.5 1179.0,758.5 1176.8,763.4 1181.4,763.1 1177.1,765.9 1182.8,766.3 1177.1,768.6 1180.8,770.4 1176.6,771.9 1179.7,774.9 1176.0,774.7 1177.7,778.3Z" fill="#fff"/><path d="M1122.0,795.1 1123.7,794.2 1125.8,794.2 1127.5,793.2 1129.9,794.2 1128.8,795.6 1127.1,796.3 1126.2,797.9 1124.4,798.6 1122.4,798.8 1121.9,797.0ZM1154.2,787.1 1155.6,786.4 1157.4,787.0 1158.8,786.2 1160.3,787.4 1160.2,789.6 1161.6,790.8 1158.8,789.9 1156.0,790.8 1154.7,789.2ZM1150.4,802.1 1153.2,801.1 1154.3,802.3 1154.6,803.9 1154.9,805.5 1153.8,807.0 1154.1,808.6 1151.8,809.5 1150.7,807.8 1150.4,805.8 1150.1,803.9ZM1123.2,807.9 1124.8,807.0 1126.5,806.9 1126.9,809.2 1124.2,809.7ZM1129.4,815.2 1131.7,814.7 1132.2,817.0 1130.3,817.5ZM1130.9,825.2 1132.5,823.8 1134.6,823.8 1135.6,825.8 1136.0,828.0 1133.7,827.5 1132.0,826.7ZM1157.7,799.2 1159.5,798.5 1161.4,798.8 1162.3,800.1 1160.6,801.0 1158.6,800.6ZM1137.3,822.3L1138.3,818.7L1136.3,821.8ZM1136.1,822.1L1131.4,819.5L1135.4,822.9ZM1134.6,827.0L1129.3,828.6L1134.6,828.0ZM1132.9,830.5L1130.9,827.0L1132.0,830.8ZM1129.3,831.3L1128.7,826.4L1128.2,831.5ZM1125.0,833.5L1123.5,828.7L1123.8,833.6ZM1120.4,835.0L1119.8,829.9L1119.5,834.9ZM1116.7,834.3L1119.5,831.9L1116.0,833.2ZM1116.3,829.7L1119.9,829.2L1116.1,828.5ZM1117.5,825.2L1121.3,825.1L1117.7,823.8ZM1120.5,820.4L1122.8,824.2L1121.7,819.9ZM1122.5,820.1L1125.7,820.6L1122.7,818.9ZM1122.2,818.8L1123.8,815.6L1121.1,818.0ZM1119.1,815.1L1121.2,811.4L1118.2,814.3ZM1115.5,813.6L1117.1,810.1L1114.7,813.0ZM1111.1,811.5L1114.1,807.1L1110.3,810.7ZM1107.8,809.1L1111.4,808.2L1107.5,807.8ZM1108.3,804.8L1111.6,808.2L1109.3,804.3ZM1110.3,803.2L1113.7,804.3L1111.0,802.2ZM1112.1,801.3L1115.9,800.0L1111.8,800.2ZM1111.3,797.7L1117.2,794.9L1111.1,796.5ZM1107.0,793.9L1112.4,792.4L1106.8,792.8ZM1108.3,789.1L1110.9,792.5L1109.3,788.5ZM1117.0,785.4L1119.1,789.6L1118.0,785.0ZM1121.0,782.4L1125.1,783.9L1121.7,781.5ZM1125.2,780.1L1126.7,784.2L1126.2,780.1ZM1130.2,778.7L1130.5,782.4L1131.3,778.7ZM1134.0,778.5L1133.4,782.1L1135.2,778.9ZM1135.2,783.5L1133.0,787.1L1136.2,784.4ZM1139.9,783.8L1141.4,787.1L1141.3,783.6ZM1148.7,785.1L1150.0,789.1L1149.9,785.1ZM1151.1,785.2L1155.2,785.4L1151.3,783.8ZM1149.1,778.3L1153.1,776.7L1149.0,776.9ZM1148.3,773.9L1152.8,773.9L1148.3,772.7ZM1149.2,769.6L1150.6,773.8L1150.5,769.3ZM1154.0,770.0L1153.2,774.0L1155.2,770.3ZM1159.2,772.2L1158.9,775.7L1160.1,772.5ZM1163.8,773.6L1162.0,776.3L1164.6,774.2ZM1170.4,779.3L1169.7,783.4L1171.6,779.6ZM1176.1,780.7L1176.6,784.9L1177.2,781.0ZM1179.2,783.0L1175.8,785.2L1179.8,784.2ZM1179.0,786.5L1175.0,786.6L1178.7,787.7ZM1175.9,790.4L1172.8,786.5L1174.9,790.8ZM1173.3,791.4L1169.5,791.6L1173.0,792.7ZM1173.7,793.5L1171.7,797.0L1174.8,794.4ZM1176.4,797.3L1172.7,799.3L1176.9,798.4ZM1178.2,802.0L1173.3,802.1L1178.1,803.2ZM1177.6,806.1L1173.9,805.1L1177.1,807.0ZM1174.3,809.2L1173.1,804.3L1173.2,809.3ZM1167.5,812.9L1163.3,813.3L1167.4,813.8ZM1168.8,818.2L1164.5,819.2L1169.0,819.4ZM1169.6,823.4L1165.6,823.9L1169.6,824.6ZM1169.7,828.3L1166.1,826.2L1169.2,829.2ZM1167.5,830.4L1166.1,826.7L1166.1,830.9ZM1164.0,830.0L1164.4,826.5L1162.9,829.9ZM1160.3,828.0L1160.8,822.6L1159.2,827.6ZM1156.6,825.9L1157.4,822.0L1155.4,825.3ZM1152.8,823.7L1154.3,820.2L1151.9,823.1ZM1150.0,821.3L1149.4,815.4L1149.0,821.5ZM1145.2,827.5L1144.8,822.8L1143.8,827.5ZM1140.4,827.6L1142.9,824.8L1139.5,826.5Z" fill="#000"/></mask><g mask="url(#pm3)"><rect x="1092" y="745" width="100" height="100" fill="#4fb041"/><path d="M1134.3,788.2 1137.2,788.9 1138.6,786.8 1141.3,788.1 1143.4,785.1 1144.8,786.4 1147.4,787.3 1147.7,789.6 1150.7,789.7 1151.1,791.7 1151.7,794.7 1149.6,795.2 1151.0,798.5 1148.8,798.9 1150.0,800.3 1148.2,802.7 1149.8,805.7 1147.6,806.5 1149.3,809.2 1147.3,810.2 1148.7,811.8 1146.0,814.2 1146.8,817.5 1144.9,818.2 1146.0,821.1 1142.7,820.7 1139.4,821.9 1140.4,820.0 1138.6,818.7 1139.2,816.4 1137.1,815.9 1137.8,813.0 1135.9,811.9 1136.3,809.1 1133.5,807.5 1135.1,805.0 1132.6,804.0 1133.7,801.0 1131.3,798.8 1133.0,796.7 1131.5,794.4 1133.7,793.1 1132.9,790.8Z" fill="#3b9a32" opacity="0.25"/></g><path d="M1143.6,840.4L1137.2,821.1M1143.6,840.4L1147.9,826.1" stroke="#7fca70" stroke-width="1.6" fill="none" stroke-linecap="round"/>
<mask id="pm4" maskUnits="userSpaceOnUse" x="1092" y="859" width="100" height="100"><path d="M1137.9,933.6 1136.6,934.3 1135.1,934.0 1133.8,934.7 1133.9,936.2 1132.9,937.4 1133.3,938.9 1132.2,940.1 1132.2,941.6 1133.3,942.8 1133.7,944.5 1135.2,945.5 1135.9,947.0 1134.5,946.0 1134.0,944.4 1132.5,943.5 1131.7,942.1 1131.9,943.6 1130.8,945.0 1131.5,946.6 1130.8,948.1 1130.9,949.7 1130.0,948.4 1130.5,946.7 1129.0,945.6 1129.3,944.0 1128.4,942.7 1128.8,944.2 1127.6,945.5 1128.2,947.0 1127.0,948.3 1127.4,949.8 1126.6,951.1 1126.6,952.5 1125.8,951.1 1126.2,949.3 1124.9,948.0 1125.1,946.2 1124.2,944.8 1124.4,946.5 1123.2,947.8 1123.7,949.5 1122.7,950.9 1122.8,952.5 1122.3,954.0 1121.5,952.5 1121.9,950.8 1120.6,949.5 1120.9,947.7 1120.2,946.3 1119.9,947.8 1118.4,948.7 1118.4,950.4 1116.9,951.2 1117.2,953.0 1116.0,954.1 1116.2,952.4 1117.5,951.1 1117.2,949.3 1118.6,948.1 1118.6,946.4 1117.0,947.1 1115.1,946.5 1113.4,947.1 1114.4,945.6 1116.3,945.2 1117.3,943.5 1118.9,942.8 1117.3,942.7 1116.2,941.4 1114.6,941.6 1113.3,940.6 1114.7,940.1 1116.2,940.5 1117.4,939.1 1119.0,939.8 1120.3,939.0 1118.6,938.5 1117.8,936.8 1115.9,936.5 1114.9,935.2 1116.3,934.9 1117.6,936.0 1119.1,935.4 1120.4,936.5 1121.8,936.1 1123.2,934.6 1125.3,934.0 1124.2,932.9 1124.3,931.2 1123.1,930.1 1121.7,930.8 1120.0,930.4 1118.8,931.8 1117.2,931.7 1117.5,930.1 1119.3,929.5 1119.3,927.8 1120.4,926.7 1119.2,928.0 1117.3,928.3 1116.3,930.0 1114.8,930.8 1114.9,929.3 1116.1,928.1 1116.1,926.6 1116.9,925.3 1115.5,926.1 1113.7,926.0 1112.5,927.4 1110.8,927.5 1109.5,928.4 1110.0,926.9 1111.6,926.1 1111.7,924.4 1112.7,923.3 1111.4,924.1 1109.8,923.7 1108.7,925.1 1107.0,924.4 1105.9,925.9 1104.3,925.8 1105.3,924.7 1106.9,924.6 1107.7,923.2 1109.4,923.2 1110.3,921.9 1108.4,922.2 1106.9,921.1 1105.1,921.4 1103.4,920.8 1105.0,920.4 1106.7,920.9 1108.3,920.1 1109.9,920.4 1110.7,918.8 1112.1,917.7 1112.6,916.2 1113.9,915.2 1114.5,913.8 1112.7,914.0 1111.1,913.1 1109.3,913.8 1107.6,913.2 1108.9,911.9 1110.9,912.3 1112.1,910.7 1113.8,910.4 1112.2,910.8 1110.7,909.7 1109.0,910.4 1107.5,909.4 1105.8,910.5 1104.3,909.2 1102.7,909.7 1103.8,908.7 1105.6,909.0 1106.7,907.8 1108.3,907.8 1109.6,907.1 1108.0,907.3 1106.6,906.3 1105.0,906.6 1103.6,905.8 1102.0,905.9 1103.4,905.1 1105.0,905.3 1106.3,904.3 1107.9,904.3 1109.3,903.7 1110.6,902.4 1112.2,901.5 1113.3,900.1 1114.8,899.0 1116.2,899.6 1117.1,901.0 1118.4,901.6 1119.2,900.1 1121.1,899.8 1121.8,898.1 1123.2,897.3 1122.9,895.8 1123.6,894.3 1122.9,892.8 1123.3,891.3 1124.2,892.6 1124.0,894.3 1125.8,895.2 1125.8,896.8 1126.0,895.3 1127.3,894.2 1127.2,892.5 1128.2,891.3 1128.5,889.8 1129.4,891.1 1129.3,892.7 1130.7,893.8 1130.7,895.4 1131.3,893.8 1132.6,892.6 1132.7,890.7 1134.1,889.6 1134.5,891.0 1133.7,892.4 1134.3,893.9 1133.8,895.3 1134.6,893.9 1136.0,893.1 1136.1,891.2 1137.6,890.4 1137.5,892.2 1135.9,893.4 1135.7,895.1 1135.4,896.8 1134.1,898.2 1133.9,899.9 1135.0,898.6 1136.9,898.2 1137.9,896.8 1139.2,897.7 1139.5,899.5 1140.9,900.3 1141.5,898.6 1143.0,897.3 1143.6,895.6 1145.0,896.2 1145.0,898.1 1146.5,898.7 1147.8,899.3 1148.0,901.1 1149.3,901.8 1150.5,900.4 1152.6,900.4 1153.8,899.0 1152.4,898.4 1151.5,897.0 1150.0,896.5 1148.5,895.8 1147.6,894.4 1146.2,893.6 1147.5,892.8 1149.1,892.8 1150.2,891.7 1151.7,891.4 1150.0,891.4 1148.8,889.9 1146.9,890.4 1145.5,889.5 1146.6,888.4 1148.5,889.0 1149.4,887.3 1151.0,887.3 1149.5,886.7 1148.5,885.3 1146.9,885.0 1145.9,883.6 1144.4,883.0 1146.1,883.5 1147.2,885.0 1149.2,884.8 1150.4,886.1 1150.5,884.3 1152.1,883.0 1152.3,881.3 1153.2,882.5 1152.6,884.2 1153.7,885.3 1153.9,886.8 1154.8,885.1 1156.9,884.5 1157.7,882.8 1158.5,884.2 1157.7,885.9 1158.9,887.3 1158.7,888.9 1159.5,887.7 1161.1,887.3 1161.5,885.7 1162.8,885.0 1163.3,886.7 1162.1,888.3 1162.6,890.1 1164.1,889.0 1166.0,889.1 1167.4,888.0 1168.3,889.7 1167.9,891.5 1169.1,892.8 1169.2,894.7 1170.3,896.0 1171.3,894.5 1172.9,893.6 1173.9,892.0 1175.0,893.2 1174.5,895.0 1175.8,896.0 1176.1,897.5 1176.9,896.2 1178.7,896.2 1179.1,894.4 1180.5,893.9 1179.9,895.3 1178.4,896.0 1178.1,897.7 1177.1,898.7 1178.6,898.7 1180.0,899.7 1181.7,898.8 1183.2,899.5 1181.5,900.1 1179.6,899.3 1178.0,900.5 1176.3,900.3 1177.8,900.7 1178.2,902.4 1179.9,902.6 1180.9,903.6 1179.2,903.7 1177.8,902.8 1176.1,903.2 1174.6,902.6 1173.5,903.9 1171.7,904.2 1170.5,905.4 1171.6,906.8 1171.6,908.6 1172.5,910.0 1174.2,908.9 1176.2,909.4 1177.9,908.5 1177.3,909.9 1175.7,910.5 1175.6,912.2 1174.2,913.0 1175.8,912.8 1177.1,914.1 1178.8,913.3 1180.1,914.4 1181.7,914.2 1180.3,915.2 1178.5,915.1 1177.2,916.3 1175.5,916.5 1176.9,916.9 1178.0,918.0 1179.7,918.0 1180.6,919.4 1182.0,919.9 1180.6,920.2 1179.2,919.1 1177.8,920.0 1176.4,919.0 1175.0,919.3 1176.4,920.4 1176.7,922.3 1178.5,923.1 1179.1,924.9 1177.8,924.2 1177.1,922.8 1175.5,922.6 1174.7,921.2 1173.3,920.6 1172.9,922.2 1171.2,922.9 1170.7,924.4 1169.4,925.5 1167.5,925.3 1166.5,927.0 1164.8,927.1 1166.5,927.4 1167.7,928.9 1169.6,928.8 1171.0,929.8 1170.0,931.0 1168.3,931.1 1167.6,932.7 1166.2,933.2 1167.9,933.5 1169.2,934.9 1171.1,934.6 1172.4,935.8 1171.2,936.8 1169.5,936.3 1168.5,937.9 1166.9,937.9 1168.3,938.4 1169.1,939.9 1170.9,939.9 1171.5,941.7 1173.1,942.1 1171.5,942.2 1170.1,941.5 1168.6,942.0 1167.1,941.4 1168.1,942.6 1168.3,944.1 1169.6,945.1 1169.7,946.7 1170.8,947.7 1169.4,946.9 1169.3,945.1 1167.6,944.5 1167.3,942.9 1165.9,942.1 1166.4,943.7 1165.7,945.3 1166.5,946.9 1166.0,948.6 1165.0,947.3 1165.4,945.6 1164.1,944.4 1164.6,942.6 1163.8,941.3 1163.5,942.8 1161.9,943.7 1162.3,945.7 1161.1,946.8 1160.7,945.3 1161.3,943.7 1160.3,942.3 1161.0,940.7 1160.5,939.2 1159.8,940.7 1158.3,941.7 1158.0,943.5 1156.5,944.5 1156.4,943.1 1157.3,941.6 1156.6,940.1 1157.3,938.7 1157.2,937.2 1156.4,938.5 1154.7,939.1 1154.3,940.8 1152.9,941.6 1152.8,940.0 1153.9,938.4 1153.0,936.6 1153.7,935.1 1153.0,936.8 1151.1,937.4 1150.1,938.8 1149.5,937.4 1149.8,935.8 1148.8,934.5 1149.1,932.9 1149.4,934.5 1148.8,936.0 1149.4,937.6 1148.4,939.2 1149.0,940.7 1148.8,942.3 1147.4,943.1 1147.2,944.6 1146.3,945.7 1145.3,944.5 1146.0,942.8 1144.7,941.7 1145.1,940.1 1144.4,938.8 1144.3,940.3 1143.2,941.6 1143.7,943.3 1142.7,944.6 1142.6,946.1 1141.7,944.6 1142.5,942.9 1141.3,941.5 1141.5,939.9 1139.7,939.8 1137.9,939.3 1137.3,937.9 1138.1,936.4 1137.3,935.0ZM1116.1,894.9 1108.1,900.6 1107.8,898.5 1104.2,898.9 1106.7,896.5 1102.7,896.1 1105.0,893.5 1103.0,891.7 1105.0,890.5 1103.2,888.0 1107.7,888.8 1102.8,882.8 1107.8,885.6 1107.0,881.5 1111.3,885.3 1111.2,880.2 1113.7,885.5 1114.9,881.3 1116.9,883.3 1119.0,882.0 1118.8,885.2 1121.2,884.0 1121.8,885.7 1123.1,886.6ZM1166.6,884.5 1157.7,874.9 1159.9,874.8 1159.4,871.2 1163.8,875.3 1162.9,869.0 1166.0,872.3 1167.4,868.2 1168.8,874.3 1171.6,868.6 1172.0,873.9 1175.8,870.6 1174.6,874.5 1179.0,872.5 1176.8,877.4 1181.4,877.1 1177.1,879.9 1182.8,880.3 1177.1,882.6 1180.8,884.4 1176.6,885.9 1179.7,888.9 1176.0,888.7 1177.7,892.3Z" fill="#fff"/><path d="M1122.0,909.1 1123.7,908.2 1125.8,908.2 1127.5,907.2 1129.9,908.2 1128.8,909.6 1127.1,910.3 1126.2,911.9 1124.4,912.6 1122.4,912.8 1121.9,911.0ZM1154.2,901.1 1155.6,900.4 1157.4,901.0 1158.8,900.2 1160.3,901.4 1160.2,903.6 1161.6,904.8 1158.8,903.9 1156.0,904.8 1154.7,903.2ZM1150.4,916.1 1153.2,915.1 1154.3,916.3 1154.6,917.9 1154.9,919.5 1153.8,921.0 1154.1,922.6 1151.8,923.5 1150.7,921.8 1150.4,919.8 1150.1,917.9ZM1123.2,921.9 1124.8,921.0 1126.5,920.9 1126.9,923.2 1124.2,923.7ZM1129.4,929.2 1131.7,928.7 1132.2,931.0 1130.3,931.5ZM1130.9,939.2 1132.5,937.8 1134.6,937.8 1135.6,939.8 1136.0,942.0 1133.7,941.5 1132.0,940.7ZM1157.7,913.2 1159.5,912.5 1161.4,912.8 1162.3,914.1 1160.6,915.0 1158.6,914.6ZM1137.3,936.3L1138.3,932.7L1136.3,935.8ZM1136.1,936.1L1131.4,933.5L1135.4,936.9ZM1134.6,941.0L1129.3,942.6L1134.6,942.0ZM1132.9,944.5L1130.9,941.0L1132.0,944.8ZM1129.3,945.3L1128.7,940.4L1128.2,945.5ZM1125.0,947.5L1123.5,942.7L1123.8,947.6ZM1120.4,949.0L1119.8,943.9L1119.5,948.9ZM1116.7,948.3L1119.5,945.9L1116.0,947.2ZM1116.3,943.7L1119.9,943.2L1116.1,942.5ZM1117.5,939.2L1121.3,939.1L1117.7,937.8ZM1120.5,934.4L1122.8,938.2L1121.7,933.9ZM1122.5,934.1L1125.7,934.6L1122.7,932.9ZM1122.2,932.8L1123.8,929.6L1121.1,932.0ZM1119.1,929.1L1121.2,925.4L1118.2,928.3ZM1115.5,927.6L1117.1,924.1L1114.7,927.0ZM1111.1,925.5L1114.1,921.1L1110.3,924.7ZM1107.8,923.1L1111.4,922.2L1107.5,921.8ZM1108.3,918.8L1111.6,922.2L1109.3,918.3ZM1110.3,917.2L1113.7,918.3L1111.0,916.2ZM1112.1,915.3L1115.9,914.0L1111.8,914.2ZM1111.3,911.7L1117.2,908.9L1111.1,910.5ZM1107.0,907.9L1112.4,906.4L1106.8,906.8ZM1108.3,903.1L1110.9,906.5L1109.3,902.5ZM1117.0,899.4L1119.1,903.6L1118.0,899.0ZM1121.0,896.4L1125.1,897.9L1121.7,895.5ZM1125.2,894.1L1126.7,898.2L1126.2,894.1ZM1130.2,892.7L1130.5,896.4L1131.3,892.7ZM1134.0,892.5L1133.4,896.1L1135.2,892.9ZM1135.2,897.5L1133.0,901.1L1136.2,898.4ZM1139.9,897.8L1141.4,901.1L1141.3,897.6ZM1148.7,899.1L1150.0,903.1L1149.9,899.1ZM1151.1,899.2L1155.2,899.4L1151.3,897.8ZM1149.1,892.3L1153.1,890.7L1149.0,890.9ZM1148.3,887.9L1152.8,887.9L1148.3,886.7ZM1149.2,883.6L1150.6,887.8L1150.5,883.3ZM1154.0,884.0L1153.2,888.0L1155.2,884.3ZM1159.2,886.2L1158.9,889.7L1160.1,886.5ZM1163.8,887.6L1162.0,890.3L1164.6,888.2ZM1170.4,893.3L1169.7,897.4L1171.6,893.6ZM1176.1,894.7L1176.6,898.9L1177.2,895.0ZM1179.2,897.0L1175.8,899.2L1179.8,898.2ZM1179.0,900.5L1175.0,900.6L1178.7,901.7ZM1175.9,904.4L1172.8,900.5L1174.9,904.8ZM1173.3,905.4L1169.5,905.6L1173.0,906.7ZM1173.7,907.5L1171.7,911.0L1174.8,908.4ZM1176.4,911.3L1172.7,913.3L1176.9,912.4ZM1178.2,916.0L1173.3,916.1L1178.1,917.2ZM1177.6,920.1L1173.9,919.1L1177.1,921.0ZM1174.3,923.2L1173.1,918.3L1173.2,923.3ZM1167.5,926.9L1163.3,927.3L1167.4,927.8ZM1168.8,932.2L1164.5,933.2L1169.0,933.4ZM1169.6,937.4L1165.6,937.9L1169.6,938.6ZM1169.7,942.3L1166.1,940.2L1169.2,943.2ZM1167.5,944.4L1166.1,940.7L1166.1,944.9ZM1164.0,944.0L1164.4,940.5L1162.9,943.9ZM1160.3,942.0L1160.8,936.6L1159.2,941.6ZM1156.6,939.9L1157.4,936.0L1155.4,939.3ZM1152.8,937.7L1154.3,934.2L1151.9,937.1ZM1150.0,935.3L1149.4,929.4L1149.0,935.5ZM1145.2,941.5L1144.8,936.8L1143.8,941.5ZM1140.4,941.6L1142.9,938.8L1139.5,940.5Z" fill="#000"/></mask><g mask="url(#pm4)"><rect x="1092" y="859" width="100" height="100" fill="#4fb041"/><path d="M1134.3,902.2 1137.2,902.9 1138.6,900.8 1141.3,902.1 1143.4,899.1 1144.8,900.4 1147.4,901.3 1147.7,903.6 1150.7,903.7 1151.1,905.7 1151.7,908.7 1149.6,909.2 1151.0,912.5 1148.8,912.9 1150.0,914.3 1148.2,916.7 1149.8,919.7 1147.6,920.5 1149.3,923.2 1147.3,924.2 1148.7,925.8 1146.0,928.2 1146.8,931.5 1144.9,932.2 1146.0,935.1 1142.7,934.7 1139.4,935.9 1140.4,934.0 1138.6,932.7 1139.2,930.4 1137.1,929.9 1137.8,927.0 1135.9,925.9 1136.3,923.1 1133.5,921.5 1135.1,919.0 1132.6,918.0 1133.7,915.0 1131.3,912.8 1133.0,910.7 1131.5,908.4 1133.7,907.1 1132.9,904.8Z" fill="#3b9a32" opacity="0.25"/></g><path d="M1143.6,954.4L1137.2,935.1M1143.6,954.4L1147.9,940.1" stroke="#7fca70" stroke-width="1.6" fill="none" stroke-linecap="round"/>
<mask id="pm5" maskUnits="userSpaceOnUse" x="1094" y="978" width="98" height="102"><path d="M1138.1,1052.6 1136.8,1053.4 1135.1,1053.1 1133.7,1053.8 1133.9,1055.4 1132.8,1056.7 1133.2,1058.4 1132.0,1059.7 1132.1,1061.2 1133.3,1062.5 1133.7,1064.4 1135.2,1065.5 1136.0,1067.1 1134.5,1066.0 1133.9,1064.2 1132.4,1063.2 1131.5,1061.7 1131.7,1063.4 1130.6,1064.9 1131.3,1066.7 1130.5,1068.2 1130.7,1069.9 1129.7,1068.6 1130.2,1066.7 1128.6,1065.6 1128.9,1063.8 1128.0,1062.4 1128.3,1064.1 1127.2,1065.4 1127.7,1067.1 1126.5,1068.4 1126.9,1070.0 1126.0,1071.4 1126.0,1073.0 1125.1,1071.4 1125.6,1069.5 1124.2,1068.1 1124.5,1066.2 1123.5,1064.7 1123.6,1066.5 1122.4,1067.9 1122.9,1069.7 1121.8,1071.2 1122.0,1072.9 1121.4,1074.5 1120.6,1073.0 1121.0,1071.1 1119.6,1069.7 1119.9,1067.8 1119.1,1066.3 1118.8,1067.9 1117.2,1068.9 1117.2,1070.6 1115.6,1071.6 1115.9,1073.5 1114.6,1074.7 1114.9,1072.9 1116.2,1071.5 1115.9,1069.5 1117.5,1068.2 1117.4,1066.3 1115.7,1067.2 1113.7,1066.5 1111.9,1067.2 1112.9,1065.5 1115.0,1065.1 1116.0,1063.3 1117.7,1062.5 1116.0,1062.4 1114.8,1061.1 1113.1,1061.2 1111.8,1060.2 1113.2,1059.6 1114.9,1060.0 1116.1,1058.6 1117.8,1059.3 1119.2,1058.5 1117.4,1057.9 1116.5,1056.1 1114.6,1055.8 1113.4,1054.3 1115.0,1054.0 1116.4,1055.2 1118.0,1054.5 1119.3,1055.8 1120.9,1055.4 1122.4,1053.7 1124.6,1053.1 1123.4,1051.9 1123.5,1050.0 1122.3,1048.9 1120.8,1049.6 1118.9,1049.2 1117.6,1050.7 1115.9,1050.6 1116.2,1048.9 1118.1,1048.3 1118.2,1046.4 1119.4,1045.2 1118.1,1046.7 1116.0,1047.0 1115.0,1048.7 1113.3,1049.6 1113.5,1048.0 1114.7,1046.8 1114.7,1045.1 1115.6,1043.7 1114.1,1044.6 1112.2,1044.5 1110.9,1046.0 1109.1,1046.0 1107.6,1047.0 1108.1,1045.4 1109.9,1044.6 1110.0,1042.8 1111.1,1041.5 1109.7,1042.4 1108.0,1042.0 1106.8,1043.5 1104.9,1042.8 1103.8,1044.4 1102.1,1044.3 1103.2,1043.1 1104.9,1042.9 1105.7,1041.4 1107.5,1041.4 1108.5,1040.1 1106.5,1040.4 1104.8,1039.2 1102.9,1039.5 1101.1,1038.9 1102.8,1038.4 1104.6,1039.0 1106.3,1038.1 1108.1,1038.4 1108.9,1036.7 1110.4,1035.6 1111.0,1034.0 1112.4,1032.9 1113.0,1031.4 1111.1,1031.6 1109.3,1030.6 1107.4,1031.4 1105.6,1030.7 1107.0,1029.4 1109.2,1029.7 1110.4,1028.1 1112.3,1027.7 1110.5,1028.1 1108.9,1027.0 1107.1,1027.7 1105.5,1026.7 1103.7,1027.8 1102.0,1026.4 1100.3,1026.9 1101.6,1025.8 1103.4,1026.2 1104.6,1024.9 1106.3,1025.0 1107.7,1024.1 1106.0,1024.4 1104.5,1023.3 1102.8,1023.6 1101.3,1022.7 1099.6,1022.8 1101.1,1022.1 1102.8,1022.3 1104.2,1021.2 1105.9,1021.2 1107.4,1020.5 1108.8,1019.1 1110.5,1018.2 1111.7,1016.6 1113.3,1015.4 1114.9,1016.1 1115.8,1017.6 1117.3,1018.3 1118.1,1016.7 1120.1,1016.3 1120.8,1014.5 1122.3,1013.6 1122.0,1012.0 1122.8,1010.4 1122.0,1008.8 1122.4,1007.2 1123.4,1008.5 1123.3,1010.4 1125.1,1011.3 1125.2,1013.1 1125.4,1011.4 1126.8,1010.3 1126.7,1008.5 1127.8,1007.2 1128.1,1005.6 1129.0,1006.9 1128.9,1008.7 1130.4,1009.8 1130.4,1011.6 1131.1,1009.8 1132.5,1008.6 1132.6,1006.5 1134.1,1005.3 1134.5,1006.9 1133.6,1008.4 1134.3,1010.0 1133.8,1011.5 1134.6,1010.0 1136.2,1009.1 1136.3,1007.1 1137.8,1006.2 1137.7,1008.1 1136.0,1009.4 1135.9,1011.3 1135.5,1013.1 1134.1,1014.6 1133.8,1016.4 1135.1,1015.1 1137.1,1014.6 1138.2,1013.0 1139.6,1014.0 1139.9,1016.0 1141.4,1016.9 1142.0,1015.0 1143.6,1013.6 1144.3,1011.7 1145.8,1012.5 1145.9,1014.4 1147.4,1015.1 1148.8,1015.8 1149.0,1017.7 1150.4,1018.5 1151.7,1016.9 1154.0,1016.9 1155.3,1015.4 1153.8,1014.8 1152.8,1013.3 1151.2,1012.8 1149.6,1012.1 1148.6,1010.5 1147.1,1009.6 1148.5,1008.8 1150.2,1008.8 1151.4,1007.5 1153.0,1007.3 1151.2,1007.3 1149.9,1005.6 1147.9,1006.2 1146.3,1005.3 1147.6,1004.0 1149.5,1004.7 1150.5,1002.8 1152.3,1002.8 1150.6,1002.2 1149.6,1000.7 1147.8,1000.4 1146.8,998.9 1145.2,998.3 1146.9,998.8 1148.2,1000.4 1150.3,1000.2 1151.6,1001.5 1151.7,999.6 1153.4,998.3 1153.7,996.4 1154.6,997.7 1153.9,999.5 1155.2,1000.7 1155.3,1002.3 1156.3,1000.5 1158.6,999.9 1159.5,998.0 1160.3,999.6 1159.5,1001.4 1160.8,1002.8 1160.6,1004.5 1161.4,1003.3 1163.2,1002.9 1163.6,1001.1 1164.9,1000.3 1165.5,1002.2 1164.1,1004.0 1164.7,1005.9 1166.3,1004.7 1168.4,1004.8 1169.9,1003.6 1170.8,1005.4 1170.4,1007.4 1171.8,1008.8 1171.9,1010.8 1173.0,1012.3 1174.1,1010.6 1175.8,1009.6 1176.9,1007.9 1178.1,1009.2 1177.5,1011.1 1179.0,1012.2 1179.3,1013.8 1180.1,1012.4 1182.0,1012.4 1182.5,1010.5 1184.0,1010.0 1183.4,1011.5 1181.7,1012.3 1181.4,1014.0 1180.3,1015.1 1181.9,1015.1 1183.5,1016.2 1185.3,1015.2 1186.8,1016.0 1185.0,1016.6 1183.0,1015.8 1181.3,1017.1 1179.4,1016.9 1181.0,1017.3 1181.5,1019.1 1183.3,1019.3 1184.4,1020.4 1182.6,1020.5 1181.0,1019.5 1179.2,1019.9 1177.6,1019.3 1176.4,1020.7 1174.5,1021.1 1173.2,1022.4 1174.3,1023.8 1174.4,1025.8 1175.4,1027.3 1177.2,1026.1 1179.4,1026.6 1181.2,1025.7 1180.5,1027.2 1178.8,1027.8 1178.7,1029.7 1177.2,1030.5 1178.9,1030.3 1180.3,1031.6 1182.1,1030.8 1183.6,1032.0 1185.3,1031.8 1183.8,1032.9 1181.8,1032.8 1180.4,1034.0 1178.6,1034.2 1180.1,1034.7 1181.3,1035.9 1183.1,1035.9 1184.1,1037.4 1185.6,1037.9 1184.1,1038.2 1182.6,1037.1 1181.0,1038.0 1179.6,1037.0 1178.0,1037.3 1179.5,1038.5 1179.9,1040.5 1181.8,1041.4 1182.5,1043.2 1181.1,1042.5 1180.3,1041.0 1178.5,1040.8 1177.7,1039.3 1176.3,1038.6 1175.8,1040.3 1174.0,1041.1 1173.5,1042.8 1172.1,1043.9 1170.0,1043.7 1168.9,1045.5 1167.1,1045.6 1168.9,1046.0 1170.2,1047.6 1172.3,1047.4 1173.7,1048.6 1172.7,1049.9 1170.9,1050.0 1170.1,1051.7 1168.6,1052.3 1170.5,1052.5 1171.8,1054.1 1173.9,1053.7 1175.3,1055.0 1174.0,1056.1 1172.1,1055.6 1171.1,1057.3 1169.4,1057.2 1170.9,1057.9 1171.7,1059.4 1173.7,1059.4 1174.3,1061.4 1176.0,1061.8 1174.3,1061.9 1172.8,1061.1 1171.1,1061.7 1169.6,1061.1 1170.6,1062.3 1170.9,1063.9 1172.2,1065.0 1172.3,1066.7 1173.6,1067.8 1172.1,1067.0 1171.9,1065.0 1170.2,1064.4 1169.7,1062.6 1168.3,1061.8 1168.8,1063.5 1168.0,1065.2 1169.0,1067.0 1168.4,1068.7 1167.3,1067.3 1167.8,1065.5 1166.3,1064.2 1166.9,1062.4 1166.1,1060.9 1165.7,1062.6 1164.0,1063.5 1164.4,1065.6 1163.1,1066.8 1162.7,1065.2 1163.3,1063.5 1162.3,1062.0 1163.0,1060.3 1162.5,1058.7 1161.7,1060.3 1160.1,1061.3 1159.7,1063.3 1158.2,1064.4 1158.1,1062.8 1159.0,1061.3 1158.2,1059.6 1159.1,1058.1 1159.0,1056.5 1158.1,1058.0 1156.2,1058.5 1155.8,1060.4 1154.2,1061.3 1154.2,1059.5 1155.4,1057.8 1154.4,1055.9 1155.2,1054.2 1154.4,1056.0 1152.4,1056.7 1151.3,1058.3 1150.7,1056.7 1151.0,1055.0 1149.9,1053.6 1150.2,1051.9 1150.5,1053.6 1149.9,1055.3 1150.6,1056.9 1149.5,1058.6 1150.1,1060.3 1149.9,1061.9 1148.3,1062.8 1148.2,1064.5 1147.2,1065.7 1146.2,1064.4 1146.9,1062.6 1145.5,1061.3 1145.9,1059.6 1145.2,1058.2 1145.1,1059.8 1143.9,1061.2 1144.4,1063.0 1143.4,1064.4 1143.2,1066.1 1142.3,1064.5 1143.2,1062.6 1141.8,1061.2 1142.1,1059.4 1140.1,1059.4 1138.2,1058.8 1137.5,1057.2 1138.4,1055.7 1137.5,1054.1ZM1098.9,1011.6 1100.3,1010.8 1101.9,1010.7 1103.1,1009.5 1104.8,1009.7 1106.1,1008.8 1104.4,1008.1 1103.3,1006.6 1101.4,1006.2 1100.3,1004.5 1098.6,1003.9 1099.4,1002.2 1101.2,1001.4 1101.8,999.6 1103.5,998.7 1102.1,997.7 1101.9,995.8 1100.3,995.0 1099.9,993.3 1101.4,992.2 1103.5,992.8 1104.9,991.3 1106.7,991.0 1108.3,991.6 1109.4,993.2 1111.4,993.2 1112.5,994.7 1112.8,996.4 1111.6,997.9 1111.8,999.6 1113.6,1000.2 1114.9,1001.9 1116.7,1002.5 1117.3,1000.8 1118.7,999.6 1119.3,997.9 1119.4,996.1 1121.0,994.9 1121.3,993.2 1123.1,993.9 1123.8,995.8 1125.4,996.7 1124.4,998.2 1122.6,998.7 1122.0,1000.5 1120.5,1001.4 1122.1,1002.0 1122.9,1003.7 1124.6,1004.1 1123.4,1005.4 1121.3,1005.1 1120.3,1006.8 1118.6,1007.1 1118.5,1009.1 1116.6,1010.4 1116.6,1012.3 1115.3,1013.3 1113.5,1012.8 1112.3,1014.0 1110.7,1014.3 1109.7,1016.3 1107.8,1017.5 1106.3,1016.5 1105.9,1014.5 1104.3,1013.6 1102.3,1013.4 1100.8,1011.9ZM1160.4,987.2 1161.7,986.1 1163.7,986.2 1164.5,984.2 1166.3,984.0 1166.8,985.7 1166.2,987.5 1166.9,989.3 1166.7,991.0 1167.5,989.5 1169.1,988.6 1169.7,986.9 1171.2,986.0 1171.7,984.2 1173.1,983.1 1174.7,982.2 1176.8,982.9 1178.4,981.8 1179.5,983.3 1179.0,985.1 1180.3,986.5 1180.4,988.2 1181.3,986.7 1183.2,986.2 1183.9,984.4 1185.4,983.6 1185.0,985.0 1183.7,986.1 1183.9,987.9 1182.3,988.8 1181.9,990.3 1183.5,990.8 1184.4,992.6 1186.4,992.5 1187.5,993.9 1186.2,994.7 1184.5,994.5 1183.3,995.6 1181.6,995.4 1180.3,996.3 1181.9,996.8 1182.6,998.6 1184.6,998.5 1185.3,1000.4 1187.1,1000.6 1188.2,1001.7 1186.5,1002.3 1184.6,1001.8 1183.1,1003.2 1181.2,1002.9 1182.5,1003.8 1182.6,1005.6 1184.1,1006.4 1184.9,1007.7 1183.0,1007.4 1181.6,1005.8 1179.4,1006.2 1177.9,1005.0 1175.9,1005.5 1174.1,1004.1 1172.2,1004.7 1170.9,1003.3 1170.5,1001.4 1169.3,1000.0 1168.1,998.7 1167.8,996.9 1166.4,995.7 1164.9,995.1 1164.4,993.1 1162.8,992.6 1161.5,991.0 1161.7,988.8ZM1134.0,1020.9 1132.9,1019.7 1133.0,1017.9 1131.4,1016.9 1131.4,1015.2 1130.4,1014.0 1132.0,1012.8 1134.0,1012.9 1135.7,1011.9 1135.5,1010.1 1136.5,1008.3 1136.3,1006.4 1137.2,1004.6 1139.4,1004.2 1140.5,1002.5 1142.4,1002.5 1143.7,1004.2 1145.5,1004.4 1146.2,1006.2 1145.8,1008.2 1146.4,1010.0 1147.5,1011.2 1146.9,1013.0 1147.9,1014.3 1149.3,1015.2 1150.0,1016.8 1151.7,1017.4 1152.5,1018.9 1151.5,1020.4 1149.5,1020.8 1148.6,1022.5 1146.6,1022.9 1145.5,1024.4 1143.9,1025.0 1142.2,1024.0 1140.5,1024.6 1138.9,1024.3 1137.0,1023.5 1135.9,1021.7Z" fill="#fff"/><path d="M1121.1,1026.3 1122.8,1024.9 1125.2,1025.4 1127.0,1024.3 1129.5,1025.3 1128.7,1027.1 1126.6,1027.7 1125.5,1029.3 1123.6,1030.1 1121.6,1030.3 1120.7,1028.4ZM1155.7,1017.7 1157.2,1017.0 1159.1,1017.8 1160.7,1016.7 1162.1,1018.1 1162.3,1020.2 1163.6,1021.7 1160.7,1020.7 1157.7,1021.7 1156.3,1019.9ZM1151.6,1033.8 1154.6,1032.8 1155.8,1034.1 1156.1,1035.8 1156.5,1037.5 1155.0,1039.0 1155.6,1040.8 1153.1,1041.8 1152.0,1039.9 1151.6,1037.8 1151.1,1035.8ZM1122.4,1040.0 1124.1,1039.2 1125.9,1039.0 1126.4,1041.5 1123.4,1042.0ZM1129.0,1047.9 1131.5,1047.4 1132.0,1049.9 1130.0,1050.4ZM1130.6,1058.6 1132.4,1057.2 1134.6,1057.1 1135.7,1059.3 1136.1,1061.6 1133.6,1061.1 1131.9,1060.1ZM1159.5,1030.7 1161.4,1030.2 1163.5,1030.2 1164.5,1031.7 1162.5,1032.4 1160.5,1032.2ZM1137.5,1055.5L1138.6,1051.7L1136.4,1055.0ZM1136.3,1055.3L1131.2,1052.6L1135.5,1056.2ZM1134.6,1060.6L1128.9,1062.3L1134.6,1061.7ZM1132.8,1064.4L1130.6,1060.6L1131.8,1064.7ZM1128.9,1065.3L1128.3,1059.9L1127.7,1065.4ZM1124.3,1067.6L1122.7,1062.4L1123.0,1067.7ZM1119.4,1069.2L1118.8,1063.7L1118.4,1069.1ZM1115.4,1068.5L1118.4,1065.8L1114.6,1067.3ZM1114.9,1063.5L1118.8,1063.0L1114.7,1062.2ZM1116.2,1058.6L1120.4,1058.6L1116.5,1057.2ZM1119.4,1053.5L1122.0,1057.5L1120.8,1053.0ZM1121.6,1053.2L1125.0,1053.8L1121.9,1051.8ZM1121.3,1051.7L1123.0,1048.3L1120.1,1050.9ZM1118.0,1047.8L1120.2,1043.9L1117.0,1047.0ZM1114.1,1046.2L1115.8,1042.5L1113.2,1045.5ZM1109.3,1043.9L1112.6,1039.2L1108.6,1043.0ZM1105.8,1041.4L1109.7,1040.4L1105.5,1039.9ZM1106.4,1036.8L1109.9,1040.4L1107.4,1036.2ZM1108.5,1035.0L1112.1,1036.2L1109.2,1033.9ZM1110.5,1032.9L1114.5,1031.6L1110.1,1031.8ZM1109.6,1029.0L1115.9,1026.1L1109.3,1027.8ZM1104.9,1025.0L1110.8,1023.4L1104.8,1023.8ZM1106.4,1019.8L1109.2,1023.5L1107.5,1019.2ZM1115.8,1015.8L1118.0,1020.4L1116.8,1015.4ZM1120.1,1012.6L1124.4,1014.2L1120.7,1011.7ZM1124.5,1010.2L1126.1,1014.5L1125.6,1010.2ZM1129.9,1008.6L1130.3,1012.7L1131.1,1008.7ZM1133.9,1008.5L1133.3,1012.4L1135.3,1008.9ZM1135.3,1013.8L1132.9,1017.7L1136.4,1014.8ZM1140.3,1014.1L1142.0,1017.7L1141.9,1014.0ZM1149.8,1015.6L1151.2,1019.9L1151.1,1015.6ZM1152.3,1015.7L1156.8,1015.9L1152.6,1014.2ZM1150.2,1008.2L1154.6,1006.6L1150.1,1006.8ZM1149.4,1003.5L1154.2,1003.5L1149.4,1002.2ZM1150.3,998.9L1151.8,1003.4L1151.7,998.5ZM1155.4,999.3L1154.6,1003.6L1156.8,999.7ZM1161.1,1001.6L1160.8,1005.5L1162.0,1002.0ZM1166.0,1003.2L1164.1,1006.1L1166.9,1003.8ZM1173.1,1009.3L1172.4,1013.7L1174.4,1009.6ZM1179.2,1010.9L1179.8,1015.4L1180.5,1011.1ZM1182.6,1013.2L1178.9,1015.7L1183.2,1014.5ZM1182.4,1017.1L1178.1,1017.2L1182.0,1018.4ZM1179.0,1021.2L1175.7,1017.1L1178.0,1021.7ZM1176.2,1022.3L1172.2,1022.5L1175.9,1023.7ZM1176.6,1024.5L1174.5,1028.4L1177.8,1025.5ZM1179.6,1028.7L1175.6,1030.8L1180.1,1029.8ZM1181.5,1033.7L1176.2,1033.8L1181.4,1035.0ZM1180.8,1038.2L1176.9,1037.0L1180.3,1039.1ZM1177.3,1041.4L1176.0,1036.2L1176.1,1041.6ZM1170.0,1045.4L1165.5,1045.9L1169.9,1046.5ZM1171.4,1051.1L1166.7,1052.2L1171.6,1052.5ZM1172.3,1056.8L1167.9,1057.2L1172.2,1058.0ZM1172.4,1062.0L1168.5,1059.7L1171.9,1062.9ZM1170.0,1064.2L1168.5,1060.3L1168.5,1064.8ZM1166.3,1063.9L1166.6,1060.1L1165.0,1063.7ZM1162.2,1061.6L1162.8,1055.9L1161.0,1061.2ZM1158.3,1059.4L1159.1,1055.2L1157.0,1058.7ZM1154.2,1057.0L1155.8,1053.3L1153.3,1056.5ZM1151.1,1054.5L1150.5,1048.2L1150.1,1054.6ZM1146.0,1061.1L1145.5,1056.1L1144.5,1061.1ZM1140.8,1061.3L1143.5,1058.3L1139.9,1060.1ZM1103.1,1009.2L1108.0,1008.3L1103.3,1007.7ZM1101.0,999.1L1106.3,998.5L1101.1,997.9ZM1113.1,997.3L1110.6,1001.3L1114.2,998.4ZM1115.7,999.7L1116.8,1004.6L1116.9,999.6ZM1123.2,1000.9L1119.4,1001.9L1123.2,1002.0ZM1119.9,1007.3L1115.6,1004.4L1118.9,1008.4ZM1166.8,988.1L1165.6,994.4L1168.1,988.4ZM1180.2,985.2L1180.5,989.1L1181.6,985.5ZM1184.5,989.1L1179.0,991.4L1184.8,990.5ZM1183.3,996.0L1178.3,995.8L1183.2,997.1ZM1184.1,1003.5L1179.5,1003.0L1183.7,1004.5ZM1133.8,1011.3L1138.0,1014.4L1134.5,1010.3ZM1148.6,1013.2L1144.0,1017.0L1149.1,1014.4Z" fill="#000"/></mask><g mask="url(#pm5)"><rect x="1094" y="978" width="98" height="102" fill="#4fb041"/><path d="M1135.4,1018.0 1137.5,1019.9 1139.8,1016.6 1141.7,1018.4 1144.3,1016.1 1145.3,1017.2 1148.4,1017.8 1148.9,1020.2 1151.5,1020.2 1152.3,1022.6 1153.1,1024.5 1151.0,1026.5 1152.8,1028.2 1149.5,1030.4 1151.2,1032.3 1149.1,1034.5 1151.2,1036.7 1149.0,1038.6 1150.4,1040.6 1148.1,1042.5 1149.3,1044.9 1146.8,1046.8 1147.9,1049.2 1145.7,1051.1 1147.2,1054.6 1143.4,1053.9 1140.1,1054.5 1140.9,1053.0 1138.0,1051.1 1139.5,1049.3 1136.8,1047.1 1138.1,1045.6 1135.5,1043.6 1136.4,1041.3 1134.5,1040.7 1135.1,1037.0 1131.9,1035.1 1134.1,1032.6 1132.1,1031.2 1133.0,1028.1 1131.0,1024.3 1133.6,1024.1 1133.1,1021.4Z" fill="#3b9a32" opacity="0.25"/><path d="M1133.5,1019.7 1134.5,1017.9 1131.5,1016.4 1132.7,1014.9 1132.7,1011.7 1135.5,1011.7 1135.0,1009.1 1137.7,1007.8 1137.9,1005.5 1140.4,1005.0 1142.0,1003.7 1143.9,1005.9 1146.3,1007.0 1145.6,1010.3 1149.0,1012.6 1147.4,1014.6 1149.5,1015.2 1150.3,1018.0 1149.8,1021.1 1146.6,1021.0 1144.8,1024.0 1143.1,1022.1 1140.5,1024.3 1139.7,1022.2 1136.1,1021.8Z" fill="#3b9a32" opacity="0.25"/></g><path d="M1144.3,1075.0L1137.4,1054.3M1144.3,1075.0L1148.9,1059.6" stroke="#7fca70" stroke-width="1.7" fill="none" stroke-linecap="round"/>
<mask id="pm6" maskUnits="userSpaceOnUse" x="1084" y="1066" width="129" height="134"><path d="M1140.3,1166.8 1139.3,1168.1 1137.3,1167.4 1136.7,1169.7 1134.9,1169.4 1136.1,1170.6 1135.1,1172.5 1137.0,1173.4 1136.2,1175.2 1137.9,1176.2 1137.6,1177.8 1135.8,1177.5 1135.6,1175.1 1133.4,1175.3 1132.4,1173.9 1133.1,1175.4 1132.0,1176.9 1133.4,1178.4 1131.5,1179.9 1132.8,1181.4 1132.4,1182.9 1130.4,1182.4 1130.8,1179.6 1128.2,1179.7 1127.6,1177.9 1128.2,1179.6 1126.7,1181.0 1127.4,1182.7 1126.0,1184.1 1127.0,1185.9 1125.9,1187.3 1126.2,1189.0 1124.9,1187.9 1125.1,1186.1 1123.3,1185.3 1123.9,1183.2 1121.6,1182.7 1121.8,1180.8 1122.3,1182.3 1120.5,1183.5 1121.9,1185.1 1120.1,1186.2 1121.5,1187.9 1119.9,1189.1 1121.4,1190.7 1120.1,1191.9 1118.6,1191.0 1120.0,1188.9 1117.7,1188.2 1118.6,1186.3 1117.0,1185.4 1117.0,1183.8 1116.9,1185.4 1115.3,1186.3 1115.9,1188.2 1113.8,1188.9 1114.7,1190.9 1112.5,1191.6 1113.5,1193.7 1111.8,1194.5 1111.2,1192.8 1112.9,1191.5 1112.3,1189.7 1114.2,1188.5 1112.8,1186.6 1113.9,1185.2 1112.7,1186.6 1110.9,1185.2 1109.7,1186.6 1108.1,1186.5 1108.5,1184.8 1110.8,1185.0 1110.7,1182.8 1112.5,1182.5 1112.7,1180.6 1114.2,1180.0 1112.2,1179.8 1112.2,1177.1 1110.0,1177.2 1109.0,1175.8 1110.3,1174.8 1112.0,1175.2 1113.2,1173.9 1115.1,1174.7 1116.2,1173.3 1114.8,1172.5 1114.7,1170.5 1112.6,1170.3 1112.5,1168.4 1111.1,1167.6 1112.6,1166.7 1113.9,1168.2 1115.4,1166.9 1116.8,1168.3 1118.3,1167.2 1119.7,1168.0 1119.9,1166.5 1121.6,1165.8 1120.8,1163.7 1123.3,1163.4 1123.2,1161.7 1121.6,1161.5 1121.1,1159.3 1119.1,1160.0 1118.0,1158.8 1117.0,1160.4 1114.7,1160.0 1114.3,1162.5 1112.4,1162.8 1112.3,1161.0 1114.1,1159.6 1112.8,1157.6 1113.7,1156.0 1112.6,1157.3 1110.4,1156.8 1109.8,1158.9 1107.8,1158.7 1107.0,1160.4 1105.4,1160.8 1105.4,1159.3 1107.1,1158.4 1106.3,1156.6 1108.1,1155.7 1107.8,1154.1 1106.7,1155.3 1104.7,1154.7 1104.2,1157.0 1102.0,1156.0 1101.3,1158.1 1099.2,1157.1 1098.3,1158.7 1098.6,1157.2 1100.3,1156.5 1099.7,1154.4 1102.2,1154.3 1101.7,1152.2 1103.0,1151.3 1101.6,1152.2 1099.8,1151.1 1098.8,1153.4 1097.0,1152.2 1095.9,1154.1 1094.2,1153.4 1094.7,1151.7 1097.0,1152.3 1097.3,1150.1 1099.2,1150.2 1099.8,1148.6 1101.2,1148.0 1099.3,1148.1 1098.9,1145.9 1096.8,1146.3 1096.0,1144.7 1097.5,1144.0 1099.2,1145.4 1100.4,1143.4 1102.1,1144.6 1103.5,1143.3 1105.0,1143.6 1103.5,1142.7 1104.0,1140.8 1102.4,1140.0 1102.2,1138.4 1103.9,1137.8 1105.2,1139.9 1107.0,1138.3 1108.4,1140.0 1110.0,1139.6 1108.4,1138.6 1109.3,1136.6 1107.8,1135.5 1107.6,1133.9 1106.3,1134.9 1104.5,1134.1 1103.5,1135.6 1101.8,1135.1 1100.7,1136.7 1099.1,1136.5 1099.5,1134.9 1101.5,1134.8 1101.6,1133.0 1103.8,1133.2 1104.1,1131.5 1102.7,1132.7 1101.0,1130.8 1099.7,1132.7 1098.1,1131.0 1096.7,1132.4 1095.1,1131.6 1093.7,1132.6 1092.2,1132.2 1093.0,1130.6 1095.3,1131.6 1095.7,1129.1 1097.7,1129.7 1098.4,1127.8 1100.2,1127.8 1098.6,1128.2 1097.4,1126.3 1095.6,1127.5 1094.5,1125.5 1092.7,1126.7 1091.3,1126.0 1092.7,1125.0 1094.5,1126.4 1095.8,1124.2 1097.6,1126.0 1098.9,1123.9 1100.7,1125.5 1102.2,1124.3 1100.3,1124.3 1100.0,1121.9 1097.8,1122.3 1097.1,1120.6 1098.8,1119.8 1100.0,1122.1 1101.8,1120.6 1103.1,1122.5 1105.0,1120.8 1106.3,1122.0 1106.9,1120.4 1109.2,1120.5 1109.2,1118.3 1110.8,1117.7 1109.5,1118.8 1107.7,1117.5 1106.6,1119.0 1104.8,1118.1 1103.8,1120.3 1101.9,1118.5 1100.9,1120.7 1099.2,1120.1 1099.5,1118.4 1101.7,1117.7 1101.0,1115.4 1102.5,1114.4 1101.1,1115.1 1099.6,1113.3 1098.2,1114.8 1096.8,1113.4 1095.3,1114.7 1093.9,1113.5 1092.5,1115.0 1091.0,1114.3 1092.2,1112.9 1094.4,1113.3 1094.9,1111.1 1097.2,1111.6 1098.2,1110.0 1096.2,1110.1 1095.6,1107.9 1093.7,1108.0 1092.7,1106.3 1091.0,1106.1 1091.9,1104.5 1093.9,1105.0 1094.6,1103.3 1096.2,1103.0 1094.2,1102.9 1094.0,1100.4 1091.8,1100.7 1091.5,1098.3 1089.5,1098.2 1089.9,1096.6 1092.1,1096.2 1091.9,1094.1 1093.8,1093.7 1094.2,1092.0 1092.4,1091.3 1092.9,1088.8 1090.3,1088.8 1090.0,1086.9 1090.4,1085.2 1092.5,1084.9 1092.2,1082.8 1094.0,1082.2 1094.5,1080.6 1095.9,1079.7 1097.5,1081.3 1098.7,1079.2 1100.3,1080.0 1102.1,1080.7 1101.9,1083.3 1104.3,1083.3 1105.0,1085.0 1106.6,1085.6 1107.2,1087.6 1109.0,1088.0 1110.4,1088.6 1110.6,1090.4 1112.5,1090.5 1113.0,1092.0 1114.5,1092.9 1113.8,1095.0 1115.7,1095.6 1115.9,1097.2 1116.0,1095.4 1118.6,1095.4 1118.0,1093.1 1119.8,1092.5 1120.3,1091.0 1121.0,1092.4 1119.9,1094.1 1121.6,1095.2 1120.5,1096.8 1121.7,1098.1 1121.6,1099.7 1119.6,1100.2 1120.2,1102.3 1118.3,1102.8 1117.8,1104.3 1119.5,1104.7 1120.3,1106.7 1122.3,1106.6 1123.0,1108.7 1125.0,1108.7 1124.8,1110.5 1123.2,1111.7 1123.4,1113.6 1122.4,1115.0 1123.0,1113.4 1125.1,1113.5 1125.2,1111.4 1127.5,1111.6 1128.0,1110.0 1128.6,1108.0 1131.4,1108.1 1131.9,1106.0 1133.7,1106.3 1134.0,1108.4 1136.0,1108.4 1136.8,1109.9 1135.7,1108.8 1136.0,1107.1 1134.4,1106.3 1135.4,1104.3 1133.5,1103.6 1133.5,1102.1 1132.9,1100.4 1134.2,1098.9 1132.7,1097.2 1133.7,1095.6 1134.2,1094.1 1136.4,1094.4 1136.2,1092.1 1138.4,1092.4 1139.0,1091.0 1139.0,1088.9 1141.6,1088.2 1141.5,1086.1 1143.0,1085.6 1144.6,1087.0 1146.1,1085.0 1147.6,1086.3 1149.1,1085.7 1150.9,1085.8 1151.7,1087.9 1153.9,1087.0 1154.9,1088.6 1154.7,1090.3 1152.6,1090.9 1153.3,1093.2 1150.8,1093.4 1150.8,1095.3 1152.6,1095.5 1152.4,1097.8 1154.5,1097.6 1154.5,1099.6 1155.9,1100.2 1156.2,1098.4 1158.6,1098.5 1158.1,1096.1 1159.7,1095.5 1161.0,1094.1 1162.9,1095.0 1164.3,1094.0 1165.9,1094.7 1164.7,1097.0 1167.3,1097.2 1166.3,1099.3 1167.7,1100.2 1168.3,1098.6 1170.4,1099.2 1170.7,1097.0 1172.4,1097.1 1173.9,1098.4 1172.9,1100.6 1174.0,1102.0 1174.9,1103.4 1174.3,1105.3 1176.2,1106.4 1176.0,1108.2 1175.8,1106.4 1178.1,1105.8 1177.7,1103.9 1179.7,1103.2 1179.1,1101.2 1180.2,1100.0 1178.6,1099.1 1179.3,1097.1 1177.5,1096.3 1178.3,1094.2 1176.3,1093.6 1176.0,1092.0 1174.7,1091.1 1174.9,1089.1 1172.6,1088.9 1172.5,1087.2 1171.2,1085.7 1172.7,1083.7 1170.4,1082.4 1171.1,1080.5 1172.1,1079.2 1174.2,1080.3 1174.8,1078.3 1176.3,1078.0 1177.3,1079.1 1176.6,1081.0 1178.5,1081.7 1177.6,1083.6 1179.8,1084.3 1178.8,1086.2 1180.0,1087.2 1179.6,1085.5 1181.8,1084.7 1180.9,1082.8 1182.6,1081.9 1181.5,1079.9 1183.9,1079.2 1183.4,1077.5 1184.5,1076.3 1186.5,1077.0 1186.9,1074.4 1189.1,1075.4 1190.0,1074.0 1191.0,1072.7 1192.9,1073.4 1193.7,1071.6 1195.6,1072.4 1196.4,1070.4 1198.0,1070.6 1199.7,1070.7 1200.7,1072.7 1202.9,1071.5 1203.9,1073.4 1205.7,1073.3 1207.2,1074.3 1206.4,1076.5 1208.5,1077.3 1208.5,1079.0 1208.0,1080.8 1205.9,1081.1 1205.6,1083.1 1203.4,1083.2 1202.8,1084.9 1204.6,1085.6 1203.6,1088.0 1205.8,1088.4 1205.5,1090.4 1207.0,1091.3 1205.7,1092.4 1203.8,1092.0 1203.1,1094.2 1200.8,1093.0 1199.8,1094.7 1201.3,1095.6 1200.9,1097.7 1202.8,1098.4 1202.4,1100.5 1203.9,1101.4 1202.6,1102.9 1200.6,1101.8 1199.3,1103.7 1197.4,1102.8 1195.9,1103.6 1197.1,1104.5 1197.1,1106.3 1199.1,1106.6 1198.6,1108.6 1200.5,1109.0 1200.8,1110.6 1199.2,1111.1 1198.0,1109.4 1196.2,1110.5 1195.1,1108.7 1193.3,1109.6 1192.0,1108.5 1193.7,1109.2 1194.3,1111.2 1196.0,1112.0 1197.7,1112.4 1198.0,1114.6 1200.2,1114.6 1200.5,1116.7 1202.7,1116.6 1203.5,1118.2 1201.9,1119.0 1200.2,1118.2 1198.8,1119.8 1196.9,1118.4 1195.6,1120.2 1193.8,1119.7 1195.7,1119.8 1195.8,1122.2 1198.1,1121.6 1198.4,1123.8 1200.0,1124.3 1198.6,1125.4 1196.8,1123.7 1195.6,1125.9 1193.8,1124.5 1192.5,1125.9 1190.9,1125.5 1192.8,1126.4 1192.5,1128.8 1194.0,1130.0 1195.9,1130.6 1195.1,1133.2 1197.3,1133.5 1197.5,1135.5 1198.9,1136.4 1197.5,1137.4 1196.1,1135.9 1194.7,1137.0 1193.2,1135.6 1191.8,1136.7 1193.4,1137.0 1193.6,1139.2 1195.7,1138.8 1196.2,1140.6 1198.3,1140.2 1198.7,1142.1 1200.4,1142.1 1200.8,1144.2 1202.5,1144.3 1201.1,1145.3 1199.6,1143.2 1198.2,1144.8 1196.8,1143.6 1195.4,1145.3 1194.0,1144.4 1195.4,1145.3 1194.7,1147.4 1196.7,1147.9 1196.6,1149.7 1197.7,1150.7 1196.2,1150.5 1195.2,1149.0 1193.3,1149.5 1192.6,1147.5 1190.6,1148.3 1189.5,1146.9 1189.8,1148.4 1188.6,1149.8 1189.4,1151.4 1188.7,1152.8 1187.2,1153.9 1185.4,1152.0 1184.1,1154.3 1182.4,1153.0 1180.9,1153.6 1182.2,1154.4 1182.1,1156.5 1184.5,1156.4 1184.3,1158.6 1186.4,1158.6 1187.0,1160.1 1185.9,1161.4 1183.9,1160.6 1182.8,1161.9 1184.4,1162.4 1184.5,1164.6 1186.4,1164.8 1186.6,1166.8 1189.1,1166.4 1189.5,1168.2 1188.2,1169.1 1186.5,1168.2 1185.5,1170.2 1183.9,1169.6 1185.3,1170.6 1185.0,1172.6 1186.8,1173.4 1186.5,1175.4 1188.3,1176.1 1188.8,1177.6 1186.9,1178.0 1186.4,1175.5 1184.2,1176.6 1183.2,1175.1 1184.6,1176.3 1183.1,1178.2 1185.0,1179.3 1183.9,1181.1 1185.8,1182.2 1185.4,1183.8 1183.6,1183.3 1184.3,1180.9 1182.1,1180.7 1182.5,1178.5 1180.0,1178.6 1179.8,1176.8 1180.3,1178.6 1178.0,1179.6 1179.1,1181.6 1178.0,1183.0 1176.6,1182.0 1178.1,1180.0 1175.8,1179.2 1177.1,1177.3 1174.8,1176.5 1175.3,1174.8 1174.6,1176.6 1172.3,1176.8 1172.1,1179.0 1170.6,1179.9 1169.9,1178.3 1171.3,1176.7 1170.1,1175.1 1171.1,1173.5 1170.4,1171.9 1169.9,1173.7 1167.4,1173.8 1167.2,1176.1 1165.6,1176.9 1164.5,1175.3 1166.5,1173.7 1164.9,1172.1 1166.4,1170.5 1165.5,1168.9 1164.8,1170.6 1162.6,1170.3 1162.2,1172.4 1160.6,1172.9 1159.5,1171.2 1161.4,1169.4 1159.7,1167.7 1160.6,1166.0 1159.4,1167.3 1157.3,1165.7 1156.1,1167.2 1156.4,1168.7 1155.1,1170.2 1156.8,1171.8 1155.3,1173.2 1156.5,1174.8 1155.3,1176.2 1156.2,1177.8 1155.6,1179.3 1155.2,1180.9 1153.3,1181.5 1152.7,1183.0 1151.7,1181.8 1152.7,1179.8 1150.4,1178.9 1151.4,1177.0 1150.1,1175.8 1150.8,1177.6 1148.5,1178.7 1150.0,1180.7 1147.6,1181.7 1148.0,1183.5 1146.6,1182.6 1147.3,1180.7 1145.6,1179.9 1146.6,1177.9 1145.2,1177.0 1144.1,1175.7 1144.7,1173.5 1142.5,1172.7 1142.2,1171.0 1140.9,1169.9 1141.4,1168.0Z" fill="#fff"/><path d="M1117.8,1132.2 1119.2,1130.7 1121.2,1130.3 1122.7,1129.0 1123.7,1130.4 1123.2,1132.4 1124.2,1133.8 1123.1,1135.1 1121.4,1135.7 1120.2,1137.0 1118.9,1135.7 1119.1,1133.6ZM1165.3,1119.5 1167.1,1118.8 1169.0,1119.6 1170.7,1118.6 1172.5,1118.8 1174.0,1120.0 1173.7,1122.2 1175.0,1123.5 1173.5,1124.5 1171.6,1124.2 1170.2,1125.2 1168.5,1124.1 1168.2,1122.0 1166.0,1121.4ZM1162.4,1141.0 1164.2,1139.8 1166.4,1139.4 1167.2,1140.9 1166.2,1142.7 1167.5,1144.1 1166.4,1145.9 1167.2,1147.4 1166.3,1149.0 1164.1,1149.0 1163.2,1150.6 1161.8,1149.6 1162.1,1147.7 1160.8,1146.6 1160.9,1144.6 1162.4,1143.0ZM1120.6,1150.0 1122.4,1148.6 1124.6,1148.4 1124.6,1150.1 1123.8,1151.6 1122.0,1151.2ZM1131.2,1170.6 1132.7,1169.9 1134.5,1170.4 1135.8,1168.7 1137.6,1169.0 1138.3,1170.5 1137.9,1172.3 1138.9,1173.7 1138.4,1175.5 1139.2,1177.0 1137.4,1176.5 1136.0,1175.4 1134.3,1174.7 1133.8,1172.8 1132.1,1172.1ZM1156.5,1110.1 1157.9,1109.1 1159.7,1108.5 1159.9,1110.2 1158.5,1111.6 1158.9,1113.3 1157.4,1111.9ZM1093.1,1137.2 1094.7,1139.6 1096.2,1139.1 1097.8,1139.6 1099.2,1138.5 1100.9,1139.4 1102.3,1138.3 1104.0,1138.7 1105.4,1137.8 1107.1,1138.3 1108.5,1137.4 1110.2,1138.1 1111.6,1136.9 1113.2,1137.5 1114.7,1136.6 1116.3,1136.8 1114.7,1137.2 1113.2,1136.5 1111.6,1137.4 1110.1,1136.5 1108.5,1137.4 1107.0,1136.3 1105.4,1137.4 1103.9,1136.6 1102.4,1137.7 1100.8,1136.4 1099.3,1137.5 1097.7,1136.6 1096.2,1137.8 1094.6,1136.7ZM1108.3,1164.0 1109.8,1165.0 1110.7,1166.4 1112.0,1165.5 1113.8,1165.8 1114.7,1164.0 1116.5,1164.4 1117.5,1163.0 1119.3,1163.2 1120.4,1161.9 1121.9,1161.6 1120.5,1162.6 1118.8,1161.6 1117.5,1162.8 1115.8,1162.4 1114.5,1163.4 1112.8,1162.8 1111.5,1164.1 1109.7,1163.2ZM1202.3,1127.3 1201.5,1129.7 1200.0,1130.1 1198.5,1129.1 1196.9,1129.6 1195.4,1128.7 1193.8,1129.4 1192.4,1128.2 1190.8,1129.2 1189.3,1128.1 1187.7,1129.2 1186.2,1128.0 1184.6,1128.7 1183.1,1128.1 1184.7,1127.7 1186.4,1128.5 1187.9,1127.6 1189.6,1128.4 1191.1,1127.1 1192.8,1128.3 1194.3,1127.3 1195.9,1127.9 1197.5,1126.9 1199.1,1127.7 1200.7,1126.9ZM1191.7,1152.2 1190.1,1154.6 1188.6,1154.8 1187.2,1153.5 1185.5,1154.4 1184.2,1153.0 1182.6,1153.8 1181.2,1152.5 1179.6,1153.3 1178.1,1152.6 1179.6,1151.9 1181.2,1152.8 1182.6,1151.9 1184.2,1152.8 1185.7,1151.9 1187.2,1152.9 1188.7,1152.0 1190.2,1152.9ZM1092.9,1119.3 1094.5,1121.7 1096.0,1121.2 1097.6,1121.9 1099.1,1121.1 1100.7,1121.7 1102.2,1120.8 1103.8,1121.7 1105.3,1120.6 1106.9,1121.5 1108.4,1120.6 1109.9,1121.2 1111.4,1120.2 1113.0,1121.3 1114.5,1120.5 1113.0,1121.0 1111.5,1119.8 1109.9,1120.5 1108.4,1119.7 1106.8,1120.6 1105.3,1119.6 1103.7,1120.4 1102.2,1119.4 1100.6,1120.0 1099.1,1118.9 1097.5,1120.2 1096.0,1119.1 1094.4,1119.9ZM1201.8,1109.3 1201.0,1111.7 1199.4,1112.0 1197.8,1111.1 1196.2,1111.9 1194.6,1110.9 1193.0,1111.6 1191.4,1110.7 1189.8,1111.6 1188.2,1110.9 1189.7,1110.4 1191.3,1110.9 1192.7,1109.8 1194.3,1110.6 1195.7,1109.4 1197.3,1110.4 1198.7,1109.1 1200.3,1109.9ZM1122.9,1122.3 1124.4,1121.3 1126.2,1121.8 1127.7,1120.8 1129.3,1120.7 1129.2,1122.6 1128.0,1124.2 1128.7,1126.3 1127.7,1127.9 1126.3,1126.7 1125.7,1124.9 1123.7,1124.1ZM1159.5,1118.7 1161.3,1118.8 1162.6,1120.1 1164.3,1120.3 1163.8,1121.9 1162.5,1123.0 1162.2,1124.7 1161.1,1125.9 1160.3,1124.2 1160.6,1122.3 1159.3,1120.7ZM1132.5,1145.5 1134.2,1145.5 1135.7,1146.3 1135.9,1148.0 1134.6,1149.4 1134.9,1151.1 1133.7,1150.0 1134.2,1148.1 1132.7,1147.1ZM1156.6,1158.3 1158.5,1157.5 1160.6,1157.5 1160.8,1159.1 1159.8,1160.6 1159.8,1162.3 1158.4,1161.2 1158.1,1159.2ZM1109.7,1146.0 1111.1,1144.8 1113.1,1145.5 1114.5,1144.4 1114.7,1146.1 1113.7,1147.6 1111.5,1147.3ZM1178.7,1138.1 1180.2,1137.6 1181.9,1138.0 1183.5,1137.3 1183.0,1139.1 1181.9,1140.5 1179.9,1139.8ZM1175.5,1162.2 1177.5,1161.5 1179.5,1161.4 1179.1,1163.6 1177.9,1165.4 1176.3,1164.1ZM1123.5,1171.1 1125.3,1169.8 1127.5,1169.5 1127.6,1171.3 1126.0,1172.6 1125.9,1174.3 1124.5,1172.9ZM1140.7,1169.2L1140.1,1159.2L1138.8,1168.7ZM1137.3,1169.6L1123.6,1163.3L1136.5,1171.3ZM1134.3,1175.5L1126.2,1164.8L1132.7,1176.3ZM1129.3,1179.6L1122.4,1167.8L1127.4,1180.3ZM1123.0,1182.8L1116.7,1170.3L1121.3,1183.1ZM1117.8,1186.0L1115.5,1174.8L1116.2,1186.0ZM1112.9,1187.3L1124.3,1179.5L1111.6,1186.0ZM1112.0,1180.8L1125.7,1182.8L1112.0,1179.2ZM1113.8,1173.5L1127.7,1179.1L1114.2,1172.0ZM1117.7,1166.7L1122.9,1177.6L1119.2,1165.6ZM1121.3,1163.2L1131.7,1161.4L1120.8,1161.4ZM1118.9,1161.0L1121.2,1148.8L1117.0,1161.0ZM1113.3,1158.4L1118.1,1144.6L1111.6,1157.3ZM1107.1,1156.4L1113.5,1144.5L1105.6,1155.2ZM1101.8,1153.4L1108.4,1145.3L1100.6,1151.8ZM1099.0,1149.0L1111.4,1147.7L1099.0,1147.0ZM1102.6,1143.3L1113.2,1147.8L1103.6,1141.7ZM1107.6,1139.3L1117.8,1148.1L1108.7,1137.7ZM1107.5,1136.4L1111.9,1121.7L1105.6,1135.4ZM1102.6,1133.4L1112.1,1129.0L1101.6,1131.5ZM1098.2,1129.0L1110.9,1124.7L1097.9,1127.3ZM1099.8,1124.7L1113.0,1128.1L1100.3,1122.8ZM1104.7,1120.4L1111.7,1132.0L1106.7,1119.7ZM1109.5,1119.4L1112.5,1117.5L1108.6,1117.3ZM1101.1,1116.2L1103.9,1112.6L1100.2,1114.9ZM1096.0,1110.9L1099.6,1110.2L1096.0,1109.1ZM1094.0,1103.9L1097.3,1102.6L1094.0,1102.0ZM1092.0,1093.0L1095.4,1092.1L1092.0,1091.0ZM1115.2,1094.9L1115.8,1099.1L1117.0,1095.1ZM1119.8,1102.9L1116.5,1104.3L1120.2,1104.6ZM1122.8,1112.7L1118.3,1126.7L1124.2,1113.6ZM1134.6,1108.9L1137.8,1111.8L1136.1,1107.6ZM1152.8,1093.9L1149.6,1095.9L1153.2,1095.7ZM1155.2,1097.9L1155.5,1102.3L1157.0,1098.1ZM1167.4,1097.8L1164.3,1111.3L1169.1,1098.3ZM1174.9,1106.0L1176.3,1120.0L1177.1,1106.0ZM1178.0,1100.8L1181.7,1100.6L1178.0,1099.2ZM1179.2,1085.0L1180.0,1088.4L1180.8,1085.0ZM1205.1,1084.1L1201.1,1085.0L1204.9,1086.1ZM1202.2,1094.5L1197.7,1094.5L1201.7,1096.0ZM1198.2,1103.6L1193.9,1103.3L1197.7,1105.1ZM1194.4,1108.5L1190.0,1107.9L1193.4,1110.4ZM1196.2,1119.4L1185.9,1116.4L1195.7,1121.1ZM1193.2,1125.7L1182.5,1120.6L1192.6,1127.1ZM1194.2,1136.2L1182.2,1131.6L1193.7,1138.3ZM1196.3,1144.7L1184.1,1136.3L1195.4,1146.3ZM1191.2,1148.6L1185.2,1138.5L1189.6,1149.3ZM1183.3,1153.3L1168.2,1151.1L1182.6,1155.4ZM1185.1,1161.2L1173.6,1162.0L1184.9,1163.0ZM1186.2,1169.5L1174.0,1168.1L1185.7,1171.2ZM1185.5,1176.0L1176.1,1166.9L1183.9,1177.5ZM1181.1,1178.8L1175.7,1165.2L1179.2,1179.1ZM1175.8,1177.2L1176.6,1163.0L1173.7,1176.7ZM1170.5,1174.3L1173.6,1164.6L1168.7,1173.6ZM1165.6,1171.4L1171.1,1160.0L1163.5,1170.4ZM1160.2,1168.3L1165.3,1158.4L1158.8,1167.5ZM1158.3,1168.1L1145.4,1161.6L1157.2,1169.3ZM1151.3,1177.9L1146.9,1164.4L1149.1,1178.1Z" fill="#000"/></mask><g mask="url(#pm6)"><rect x="1084" y="1066" width="129" height="134" fill="#4fb041"/><path d="M1135.8,1109.0 1138.0,1108.1 1136.7,1105.8 1138.4,1104.1 1137.2,1100.8 1139.3,1100.1 1137.8,1097.1 1139.8,1096.1 1138.2,1093.5 1140.1,1092.5 1141.3,1090.9 1144.1,1091.8 1145.4,1089.6 1148.2,1091.2 1150.9,1089.6 1150.3,1092.1 1152.6,1092.8 1151.2,1096.3 1153.8,1097.7 1152.7,1100.2 1154.9,1102.8 1153.1,1104.0 1155.4,1106.2 1153.6,1108.0 1155.4,1109.6 1153.2,1112.0 1154.9,1114.1 1153.2,1116.0 1154.9,1118.2 1153.4,1120.0 1154.4,1121.4 1152.5,1123.9 1154.6,1126.5 1152.4,1127.9 1153.9,1130.6 1151.9,1132.0 1153.8,1134.5 1152.3,1136.0 1153.7,1137.9 1152.5,1140.0 1154.1,1142.1 1152.7,1144.0 1154.3,1145.5 1152.7,1148.0 1154.4,1150.2 1153.1,1151.9 1154.3,1153.7 1151.5,1155.8 1152.9,1158.3 1150.6,1159.8 1151.7,1162.7 1150.5,1163.5 1147.7,1163.6 1147.9,1160.7 1144.5,1159.6 1146.2,1157.9 1144.1,1156.1 1145.6,1153.8 1143.3,1152.2 1144.6,1149.9 1142.3,1148.6 1143.7,1145.9 1141.4,1143.5 1143.2,1141.8 1140.7,1139.8 1142.0,1137.9 1140.0,1137.1 1140.9,1133.9 1138.9,1132.3 1140.0,1129.9 1138.2,1127.8 1139.1,1125.9 1137.4,1124.5 1138.7,1121.9 1137.1,1120.9 1138.6,1117.9 1136.0,1115.8 1138.2,1113.9 1136.1,1111.5Z" fill="#3b9a32" opacity="0.25"/></g><path d="M1155.0,1179.0L1163.0,1152.0M1163.0,1152.0L1175.0,1112.0M1175.0,1112.0L1186.0,1092.0M1140.0,1168.0L1132.0,1147.0M1132.0,1147.0L1121.0,1126.0M1121.0,1126.0L1110.0,1106.0" stroke="#7fca70" stroke-width="0.9" fill="none" stroke-linecap="round" opacity="0.8"/><path d="M1149.0,1194.5L1140.0,1168.0M1149.0,1194.5L1155.0,1179.0" stroke="#7fca70" stroke-width="1.8" fill="none" stroke-linecap="round"/>
<mask id="pm7" maskUnits="userSpaceOnUse" x="1049" y="1174" width="177" height="178"><path d="M1096.0,1250.9 1094.4,1251.0 1093.5,1249.1 1091.5,1250.3 1090.7,1248.0 1088.8,1249.0 1087.7,1247.5 1085.9,1248.0 1084.7,1247.0 1083.2,1247.3 1082.1,1245.6 1080.4,1246.8 1079.3,1245.3 1077.6,1246.3 1076.5,1244.9 1074.8,1246.0 1073.7,1244.1 1072.2,1244.8 1072.8,1243.0 1074.9,1242.8 1075.3,1240.9 1077.3,1240.6 1078.1,1239.0 1076.4,1239.5 1075.6,1237.2 1073.6,1238.6 1072.8,1236.2 1070.8,1237.6 1070.1,1235.2 1068.3,1235.8 1068.5,1234.0 1070.6,1233.8 1070.3,1231.6 1072.6,1231.5 1073.0,1229.9 1071.4,1230.5 1070.4,1228.4 1068.7,1229.5 1067.7,1227.9 1066.0,1228.8 1064.9,1227.2 1063.3,1227.9 1062.1,1227.1 1061.2,1225.5 1063.2,1224.1 1061.2,1222.4 1063.3,1220.9 1062.5,1219.3 1060.9,1219.6 1060.1,1217.5 1058.2,1218.4 1057.2,1216.6 1055.3,1217.7 1054.2,1216.5 1054.6,1214.9 1056.4,1214.1 1056.2,1212.1 1058.2,1211.5 1058.6,1209.9 1057.4,1208.5 1058.4,1206.5 1056.4,1205.5 1057.0,1203.5 1055.4,1202.4 1055.6,1200.6 1055.8,1199.0 1057.5,1198.2 1057.2,1196.3 1058.9,1195.5 1058.6,1193.7 1059.7,1192.6 1060.4,1191.0 1062.7,1191.8 1062.8,1189.6 1064.9,1190.1 1064.9,1187.6 1066.9,1188.1 1067.8,1186.9 1069.4,1186.9 1070.4,1188.8 1072.5,1187.4 1073.3,1189.7 1075.2,1188.8 1076.4,1189.8 1077.1,1191.4 1075.3,1192.9 1077.3,1194.6 1075.2,1196.1 1076.1,1197.7 1077.7,1197.3 1079.1,1199.1 1080.8,1197.6 1082.2,1199.3 1083.9,1198.1 1085.4,1198.7 1086.7,1200.2 1084.9,1202.0 1086.9,1203.4 1085.6,1205.2 1086.4,1206.7 1088.2,1206.1 1089.6,1208.1 1091.6,1206.7 1093.1,1207.8 1094.0,1209.3 1092.7,1211.2 1094.6,1212.6 1093.6,1214.4 1094.4,1216.0 1095.7,1214.9 1097.7,1215.6 1098.6,1213.7 1100.5,1214.0 1101.6,1212.5 1103.6,1213.0 1104.7,1211.6 1104.8,1213.3 1102.8,1213.9 1103.3,1215.7 1101.6,1216.5 1102.2,1218.4 1100.6,1219.2 1100.4,1220.7 1101.9,1220.2 1103.6,1221.5 1105.0,1219.8 1106.7,1220.7 1108.1,1219.3 1109.8,1220.6 1111.3,1219.6 1110.4,1221.0 1108.4,1221.2 1108.1,1223.4 1105.8,1223.2 1105.6,1225.4 1104.1,1226.2 1105.3,1227.3 1104.8,1229.3 1107.1,1229.9 1106.1,1232.2 1107.5,1233.2 1106.3,1234.6 1104.2,1233.7 1103.4,1235.8 1101.5,1235.5 1100.2,1236.5 1101.8,1237.4 1101.4,1239.8 1104.0,1239.9 1103.8,1242.2 1105.3,1243.2 1106.7,1244.0 1105.6,1246.1 1107.7,1246.7 1107.8,1248.2 1107.9,1246.4 1110.1,1245.9 1109.9,1243.9 1111.8,1243.2 1111.7,1241.2 1113.6,1240.5 1113.9,1238.8 1115.1,1237.7 1117.1,1237.9 1118.0,1236.1 1119.7,1235.8 1121.2,1237.0 1120.1,1239.1 1121.8,1240.2 1122.0,1241.9 1120.7,1240.7 1121.8,1238.8 1120.1,1237.7 1121.3,1235.8 1119.5,1234.7 1120.4,1232.9 1119.4,1231.6 1118.0,1230.7 1118.2,1228.8 1116.1,1228.4 1116.6,1226.3 1114.6,1225.8 1114.6,1224.0 1114.4,1222.5 1115.8,1221.3 1114.8,1219.6 1116.2,1218.4 1116.0,1216.9 1117.5,1216.0 1119.3,1216.7 1120.5,1214.9 1122.5,1216.2 1123.6,1213.7 1125.4,1214.4 1125.2,1212.8 1126.6,1211.3 1125.5,1209.6 1127.2,1208.2 1126.4,1206.5 1127.5,1205.3 1129.6,1206.1 1130.2,1203.8 1132.1,1204.3 1133.1,1202.8 1134.7,1202.5 1136.4,1202.1 1137.8,1203.9 1139.6,1202.6 1141.0,1204.1 1142.8,1202.9 1144.3,1203.8 1145.7,1204.5 1145.3,1206.7 1147.4,1206.9 1147.1,1209.0 1148.7,1209.6 1148.6,1211.3 1146.2,1211.4 1147.0,1213.5 1144.7,1213.7 1145.4,1215.8 1144.0,1216.6 1145.6,1216.1 1146.6,1218.0 1148.4,1216.5 1149.4,1218.8 1151.0,1218.1 1151.9,1219.4 1151.5,1221.1 1153.1,1222.1 1151.9,1224.1 1154.1,1225.0 1153.8,1226.6 1153.0,1228.1 1150.7,1227.8 1150.6,1230.1 1148.7,1230.3 1147.8,1231.7 1149.1,1232.4 1149.6,1234.0 1151.6,1234.0 1151.7,1236.0 1153.1,1236.6 1152.9,1234.8 1155.3,1234.0 1154.0,1231.7 1156.5,1231.0 1156.3,1229.1 1155.2,1228.0 1156.2,1226.1 1154.0,1225.3 1155.4,1223.3 1153.6,1222.4 1154.6,1220.6 1153.3,1219.5 1154.7,1218.7 1156.4,1219.4 1157.6,1217.4 1159.5,1218.8 1160.8,1217.8 1162.1,1218.7 1161.6,1220.8 1163.8,1221.0 1163.7,1222.9 1165.2,1223.6 1165.7,1225.1 1166.0,1223.6 1167.8,1223.0 1167.2,1220.9 1169.4,1220.6 1169.7,1219.1 1171.0,1220.2 1169.4,1222.1 1171.4,1223.2 1170.0,1225.0 1172.3,1226.0 1171.7,1227.6 1172.6,1226.2 1174.6,1226.6 1175.2,1224.7 1176.9,1224.6 1176.3,1222.9 1178.4,1222.0 1177.5,1220.3 1179.1,1219.2 1178.1,1217.4 1179.7,1216.4 1179.6,1214.9 1178.2,1213.8 1178.7,1212.0 1176.8,1211.2 1177.6,1209.2 1176.0,1208.3 1176.6,1206.4 1174.6,1205.7 1175.5,1203.6 1173.3,1203.0 1174.0,1201.0 1172.7,1200.0 1174.5,1200.1 1174.9,1202.2 1177.0,1201.9 1177.2,1204.3 1178.9,1204.5 1178.8,1202.7 1181.0,1201.9 1180.1,1199.9 1182.0,1198.9 1181.1,1196.9 1183.1,1196.0 1182.2,1194.0 1183.2,1192.7 1184.0,1191.4 1185.9,1191.4 1185.9,1189.1 1188.1,1189.4 1188.4,1187.5 1190.5,1187.8 1191.1,1186.2 1192.5,1185.2 1194.4,1186.0 1195.5,1184.3 1197.4,1184.9 1198.4,1182.8 1200.4,1183.9 1201.7,1182.8 1203.0,1181.7 1204.8,1182.2 1205.9,1180.4 1207.9,1181.4 1208.8,1179.2 1211.0,1180.6 1212.2,1179.2 1213.6,1179.8 1213.8,1181.9 1216.3,1181.2 1216.2,1183.7 1218.6,1183.1 1219.1,1184.8 1220.4,1186.0 1219.0,1187.9 1221.1,1188.8 1219.8,1190.6 1221.5,1191.6 1221.3,1193.2 1220.7,1194.6 1218.7,1194.7 1219.1,1196.9 1217.2,1197.1 1217.2,1199.0 1215.0,1198.9 1214.7,1200.5 1215.9,1201.6 1214.9,1203.7 1217.3,1204.3 1216.3,1206.3 1218.4,1207.0 1218.0,1208.8 1217.2,1210.2 1215.2,1209.6 1214.8,1211.6 1212.6,1210.9 1212.4,1213.1 1210.8,1213.3 1212.4,1214.2 1211.3,1216.3 1213.3,1217.1 1212.1,1219.2 1214.5,1219.8 1213.6,1221.8 1215.3,1222.8 1215.4,1224.3 1214.2,1225.4 1212.4,1224.3 1211.4,1226.2 1209.5,1224.7 1208.3,1225.9 1209.9,1227.0 1208.7,1229.1 1210.5,1230.1 1209.6,1232.1 1211.8,1233.0 1211.5,1234.8 1210.0,1235.2 1208.5,1234.1 1207.0,1235.2 1205.6,1234.0 1204.1,1235.2 1202.7,1233.4 1201.2,1234.5 1200.4,1236.1 1198.1,1236.3 1198.2,1238.7 1196.6,1239.6 1198.3,1239.4 1199.5,1241.4 1201.4,1240.3 1202.8,1241.6 1204.5,1241.5 1205.9,1242.0 1206.3,1243.7 1208.2,1243.7 1208.4,1245.6 1210.2,1245.7 1210.7,1247.3 1212.6,1247.3 1212.8,1249.2 1214.2,1249.8 1212.9,1250.6 1211.3,1249.5 1210.2,1251.6 1208.5,1249.9 1207.4,1252.0 1205.7,1250.4 1204.6,1252.5 1203.1,1251.8 1204.8,1252.1 1204.8,1254.2 1206.5,1254.6 1206.6,1256.5 1208.8,1256.4 1208.7,1258.5 1210.3,1259.0 1208.8,1259.9 1207.4,1258.4 1205.9,1259.8 1204.5,1258.2 1203.0,1259.6 1201.5,1258.3 1200.1,1259.5 1198.6,1258.9 1198.1,1260.7 1195.7,1260.8 1196.0,1263.3 1194.0,1263.9 1195.6,1264.0 1196.2,1265.9 1198.1,1265.3 1198.7,1267.1 1200.6,1266.5 1201.7,1267.6 1203.5,1267.7 1203.5,1270.3 1205.7,1270.0 1206.0,1272.1 1208.2,1271.9 1208.7,1273.7 1210.4,1274.2 1209.0,1275.0 1207.3,1274.2 1206.2,1275.8 1204.4,1274.8 1203.4,1276.9 1201.7,1276.4 1203.4,1276.6 1203.8,1278.7 1205.8,1278.2 1206.4,1280.0 1208.3,1279.7 1209.0,1281.3 1211.0,1280.9 1211.4,1282.9 1212.9,1283.3 1211.4,1283.8 1209.7,1282.4 1208.2,1284.4 1206.6,1282.7 1205.1,1284.2 1203.5,1283.1 1202.0,1283.6 1202.9,1285.0 1202.4,1287.0 1204.3,1288.1 1203.9,1290.0 1205.0,1291.4 1203.2,1292.0 1202.2,1290.1 1200.4,1290.7 1199.5,1288.7 1197.5,1290.1 1196.4,1288.3 1194.8,1288.3 1194.7,1290.1 1192.4,1290.3 1192.9,1292.5 1191.4,1293.3 1190.8,1295.2 1188.2,1294.6 1188.1,1297.0 1185.7,1296.6 1185.0,1298.4 1186.6,1298.8 1186.6,1301.0 1188.9,1300.6 1188.8,1303.0 1190.9,1302.8 1191.2,1304.6 1193.2,1304.6 1193.6,1306.3 1192.4,1307.5 1190.4,1306.7 1189.3,1308.5 1187.6,1308.5 1189.2,1309.1 1189.0,1311.1 1191.2,1311.1 1190.8,1313.4 1192.9,1313.4 1192.6,1315.6 1194.8,1315.6 1194.6,1317.6 1196.1,1318.2 1194.6,1318.9 1193.4,1316.8 1191.7,1318.5 1190.6,1316.3 1189.1,1317.1 1190.6,1317.9 1190.0,1320.1 1191.9,1320.6 1191.8,1322.5 1193.7,1323.1 1193.3,1325.2 1194.7,1326.0 1193.1,1326.6 1192.2,1324.7 1190.5,1325.3 1189.6,1323.4 1187.7,1324.5 1186.6,1323.3 1188.1,1324.4 1187.3,1326.3 1189.2,1327.2 1188.2,1329.2 1190.1,1330.1 1189.5,1331.9 1190.5,1333.2 1189.0,1332.5 1189.2,1330.3 1186.8,1330.5 1187.1,1328.3 1185.0,1328.2 1184.8,1326.3 1183.5,1325.5 1183.7,1327.4 1181.6,1328.3 1182.5,1330.4 1181.1,1331.6 1179.7,1330.5 1180.5,1328.4 1178.3,1327.7 1179.1,1325.6 1177.1,1324.8 1177.5,1323.0 1176.6,1324.5 1174.4,1324.6 1174.6,1327.1 1172.3,1327.2 1171.7,1328.9 1170.6,1327.4 1172.3,1325.6 1170.7,1324.1 1171.9,1322.4 1170.4,1320.9 1171.3,1319.2 1170.7,1321.0 1168.5,1321.1 1168.0,1323.1 1166.0,1323.4 1165.3,1325.1 1164.2,1323.5 1166.2,1321.8 1164.4,1320.3 1165.5,1318.6 1164.1,1317.1 1165.0,1315.4 1164.0,1316.5 1162.1,1315.9 1161.6,1318.0 1159.5,1317.0 1158.7,1318.6 1158.2,1316.9 1159.6,1315.2 1157.7,1313.6 1159.0,1311.9 1158.6,1310.3 1157.4,1311.4 1155.7,1310.5 1154.8,1312.3 1153.2,1311.8 1154.3,1313.4 1152.4,1315.0 1154.0,1316.5 1152.5,1318.1 1154.0,1319.7 1152.7,1321.3 1153.9,1322.8 1153.5,1324.4 1153.2,1326.3 1151.2,1326.8 1151.2,1328.8 1149.5,1329.6 1148.5,1328.5 1149.2,1326.7 1147.5,1325.8 1147.8,1324.2 1146.1,1323.3 1146.4,1321.7 1146.7,1323.4 1144.3,1324.2 1145.6,1326.3 1143.2,1327.0 1144.2,1329.0 1143.2,1330.3 1141.7,1329.2 1142.4,1326.9 1140.4,1326.1 1140.5,1324.1 1139.3,1322.9 1138.0,1321.9 1138.3,1319.9 1136.0,1319.5 1136.7,1317.2 1135.1,1316.4 1133.7,1315.2 1134.3,1313.1 1132.4,1312.1 1132.6,1310.1 1131.6,1311.5 1129.8,1310.9 1129.0,1312.8 1127.1,1312.2 1126.0,1313.3 1127.1,1314.6 1126.2,1316.5 1128.2,1317.5 1127.3,1319.4 1128.8,1320.5 1128.0,1322.3 1129.0,1323.7 1127.2,1323.5 1127.0,1321.1 1124.8,1321.5 1124.4,1319.4 1122.6,1319.3 1123.5,1320.7 1122.3,1322.4 1123.6,1323.8 1122.4,1325.4 1124.3,1326.8 1122.6,1328.5 1124.0,1329.9 1123.7,1331.5 1122.0,1331.2 1122.3,1328.9 1120.2,1329.0 1120.1,1327.1 1118.2,1327.1 1117.7,1325.6 1118.4,1327.2 1116.7,1328.5 1117.5,1330.2 1115.8,1331.5 1117.3,1333.3 1115.9,1334.6 1117.2,1336.4 1115.5,1337.7 1115.7,1339.3 1114.4,1338.4 1115.1,1336.4 1112.9,1336.0 1113.9,1333.8 1111.8,1333.4 1112.3,1331.5 1110.0,1331.1 1110.2,1329.4 1110.7,1331.0 1108.8,1332.3 1110.2,1334.1 1108.3,1335.3 1110.0,1337.2 1108.0,1338.4 1109.4,1340.2 1107.5,1341.5 1107.9,1343.1 1106.4,1342.1 1107.7,1339.9 1105.3,1339.2 1106.7,1337.1 1104.4,1336.4 1105.6,1334.2 1104.0,1333.2 1103.8,1334.7 1101.9,1335.2 1102.3,1337.1 1100.4,1337.6 1101.2,1339.7 1099.2,1340.1 1099.8,1342.2 1097.6,1342.5 1098.0,1344.3 1096.3,1345.0 1096.1,1346.5 1095.7,1344.8 1097.6,1343.8 1097.0,1342.0 1098.5,1340.9 1097.3,1338.9 1099.5,1338.1 1098.5,1336.1 1099.8,1335.0 1098.5,1335.9 1096.9,1335.0 1095.7,1336.5 1094.1,1335.4 1092.8,1336.2 1093.5,1334.7 1095.5,1334.4 1095.2,1332.1 1097.2,1331.8 1097.2,1329.6 1099.3,1329.4 1100.0,1328.0 1098.5,1327.3 1098.0,1325.4 1095.8,1325.5 1095.8,1323.0 1094.0,1322.7 1095.1,1321.2 1097.1,1322.2 1097.9,1320.0 1099.9,1320.9 1100.7,1318.8 1102.6,1319.3 1101.2,1318.4 1101.0,1316.6 1098.9,1316.3 1099.3,1313.9 1096.9,1313.9 1096.6,1312.2 1098.2,1311.6 1099.6,1313.2 1101.2,1311.4 1102.7,1312.8 1104.2,1311.8 1105.7,1313.4 1107.2,1312.3 1107.5,1310.8 1109.1,1310.0 1108.8,1308.1 1111.0,1307.6 1110.0,1305.3 1111.5,1304.5 1109.8,1304.7 1109.5,1302.4 1107.6,1302.8 1107.0,1301.0 1105.3,1301.1 1104.4,1302.3 1102.4,1301.7 1102.4,1304.3 1100.4,1303.8 1099.9,1305.7 1098.3,1305.7 1097.9,1304.0 1099.2,1302.5 1098.0,1300.6 1100.0,1299.2 1099.5,1297.4 1098.5,1298.7 1096.5,1298.1 1095.8,1299.9 1094.0,1299.6 1093.5,1301.7 1091.3,1300.8 1090.7,1302.8 1089.2,1303.1 1088.7,1301.4 1090.5,1300.5 1090.0,1298.8 1091.6,1297.9 1090.9,1296.1 1091.9,1295.0 1090.8,1296.0 1088.9,1295.4 1088.2,1297.4 1086.4,1296.9 1085.7,1298.7 1083.8,1298.1 1083.1,1300.0 1080.9,1298.8 1080.1,1300.4 1080.3,1298.7 1082.3,1298.2 1081.9,1296.1 1083.8,1295.6 1083.5,1293.5 1085.3,1292.9 1085.7,1291.3 1084.3,1292.3 1082.4,1291.1 1081.2,1293.1 1079.4,1292.2 1078.1,1293.5 1076.2,1292.4 1074.9,1293.7 1075.7,1292.2 1077.9,1292.5 1078.0,1290.1 1080.2,1290.5 1080.5,1288.3 1082.6,1288.5 1083.3,1286.9 1081.7,1286.6 1081.3,1284.6 1079.1,1285.3 1078.8,1283.2 1077.3,1282.8 1078.8,1282.0 1080.6,1283.3 1081.8,1281.0 1083.7,1282.8 1085.0,1280.5 1086.8,1281.8 1088.3,1281.0 1086.9,1280.2 1087.5,1278.3 1085.5,1277.7 1086.4,1275.7 1085.2,1274.7 1086.9,1274.2 1088.3,1275.9 1090.0,1274.8 1091.4,1276.3 1093.3,1274.7 1094.7,1275.9 1093.4,1274.9 1094.1,1272.9 1092.3,1272.1 1092.8,1270.3 1091.7,1269.1 1090.3,1270.1 1088.4,1269.0 1087.5,1271.4 1085.5,1270.1 1084.4,1271.7 1082.6,1270.9 1081.3,1272.0 1081.5,1270.2 1083.6,1270.3 1083.8,1268.5 1085.6,1268.3 1085.7,1266.5 1087.0,1265.8 1085.6,1266.4 1084.1,1265.4 1082.7,1266.9 1081.1,1265.0 1079.7,1266.7 1078.2,1265.6 1076.8,1267.1 1075.2,1266.0 1073.8,1266.9 1072.3,1266.5 1073.3,1265.1 1075.5,1265.6 1076.2,1263.6 1078.2,1264.0 1079.0,1262.2 1080.9,1262.3 1082.0,1261.0 1080.5,1261.2 1079.4,1259.8 1077.8,1260.4 1076.7,1258.7 1075.0,1259.7 1073.9,1258.2 1072.3,1258.6 1073.8,1257.8 1075.5,1258.6 1076.7,1256.8 1078.6,1258.6 1079.8,1256.2 1081.6,1257.6 1082.9,1255.9 1084.5,1256.5 1082.9,1255.8 1082.6,1253.8 1080.6,1253.4 1080.0,1251.7 1081.4,1250.9 1082.7,1252.5 1084.2,1250.9 1085.6,1252.7 1087.0,1251.4 1088.4,1253.1 1089.8,1252.2 1091.2,1251.1 1093.0,1252.1 1094.2,1250.2Z" fill="#fff"/><path d="M1106.3,1267.9 1107.6,1266.6 1109.6,1266.8 1110.5,1265.1 1112.2,1264.8 1113.5,1263.7 1114.5,1265.2 1113.6,1266.9 1114.8,1268.3 1114.6,1269.9 1113.3,1271.3 1111.3,1271.7 1110.1,1273.2 1108.4,1274.0 1107.4,1272.6 1107.7,1270.8 1106.4,1269.5ZM1165.0,1253.0 1166.6,1252.1 1168.5,1253.4 1170.1,1252.1 1171.9,1252.7 1173.5,1251.8 1175.2,1252.0 1176.3,1253.2 1176.2,1255.0 1177.4,1256.2 1177.1,1258.0 1178.3,1259.2 1176.7,1260.2 1174.5,1259.6 1173.0,1261.1 1171.1,1261.2 1169.8,1260.1 1169.5,1258.2 1167.6,1257.5 1167.3,1255.5 1165.6,1254.7ZM1159.9,1279.2 1161.4,1278.0 1163.5,1278.2 1165.0,1277.1 1165.8,1278.7 1165.3,1280.6 1166.4,1282.2 1166.1,1284.0 1167.0,1285.6 1167.1,1287.4 1166.2,1288.9 1164.3,1289.2 1163.6,1290.9 1162.0,1291.5 1160.7,1289.9 1160.5,1287.7 1158.9,1286.4 1158.9,1284.5 1160.0,1282.8 1159.2,1280.9ZM1123.3,1314.8 1125.0,1313.9 1127.0,1314.9 1128.7,1313.7 1130.5,1313.7 1131.1,1315.2 1130.8,1316.9 1131.8,1318.3 1131.3,1320.0 1132.5,1321.4 1132.6,1323.0 1130.4,1323.0 1128.5,1322.0 1126.9,1320.9 1126.9,1318.8 1124.8,1318.1 1124.8,1315.9ZM1109.9,1289.5 1111.4,1288.5 1113.6,1288.8 1115.0,1287.5 1115.0,1289.3 1113.8,1290.8 1114.0,1292.6 1112.4,1291.9 1111.5,1290.2ZM1074.3,1274.2 1075.7,1275.6 1076.4,1277.3 1077.8,1276.4 1079.5,1277.6 1080.8,1276.1 1082.5,1276.9 1083.8,1275.6 1085.5,1276.7 1086.9,1275.6 1088.6,1276.3 1089.9,1275.1 1091.5,1275.5 1093.0,1274.6 1094.6,1275.2 1096.0,1274.1 1097.6,1275.0 1099.0,1273.8 1100.6,1274.5 1102.1,1273.7 1100.6,1274.2 1099.0,1273.5 1097.5,1274.5 1095.9,1273.2 1094.4,1274.3 1092.8,1273.3 1091.3,1274.4 1089.7,1273.4 1088.2,1274.6 1086.6,1273.5 1085.1,1274.4 1083.6,1273.8 1082.0,1274.6 1080.5,1273.6 1079.0,1274.5 1077.4,1273.7 1075.9,1274.5ZM1090.3,1308.6 1092.1,1309.9 1093.4,1311.7 1094.6,1310.6 1096.4,1310.8 1097.4,1309.2 1099.2,1309.4 1100.3,1308.1 1102.1,1308.3 1103.1,1306.8 1104.8,1306.8 1105.8,1305.4 1107.6,1305.5 1108.9,1304.5 1107.4,1305.4 1105.6,1304.5 1104.4,1306.2 1102.6,1305.3 1101.3,1306.9 1099.5,1306.0 1098.1,1307.3 1096.4,1306.6 1095.0,1307.9 1093.4,1307.6 1092.0,1308.8ZM1209.7,1264.1 1209.5,1265.7 1208.7,1267.2 1207.1,1267.6 1205.6,1266.4 1204.0,1267.1 1202.6,1266.1 1200.9,1266.8 1199.5,1265.9 1197.9,1266.6 1196.4,1265.5 1194.8,1266.3 1193.3,1265.5 1191.7,1266.3 1190.2,1265.2 1188.6,1266.1 1187.1,1265.1 1185.5,1265.5 1184.0,1265.1 1185.5,1264.8 1187.0,1265.5 1188.5,1264.5 1190.1,1265.4 1191.5,1264.3 1193.1,1265.4 1194.6,1264.3 1196.1,1264.9 1197.6,1264.2 1199.1,1265.1 1200.6,1263.8 1202.2,1264.7 1203.7,1264.1 1205.2,1265.0 1206.7,1263.5 1208.2,1264.5ZM1198.7,1294.8 1198.0,1296.7 1196.6,1297.9 1195.1,1297.9 1193.7,1296.9 1192.1,1297.4 1190.7,1296.3 1189.1,1296.8 1187.7,1295.7 1186.1,1296.4 1184.7,1295.2 1183.0,1296.1 1181.7,1294.6 1180.1,1294.8 1181.7,1294.2 1183.2,1295.4 1184.8,1294.5 1186.3,1295.2 1187.9,1294.2 1189.4,1295.4 1190.9,1294.5 1192.5,1295.5 1194.0,1294.5 1195.6,1295.3 1197.1,1294.2ZM1074.1,1250.6 1075.7,1251.5 1076.2,1253.2 1077.8,1252.8 1079.4,1253.3 1080.9,1252.6 1082.5,1253.4 1084.1,1252.1 1085.7,1253.3 1087.2,1252.1 1088.8,1253.2 1090.4,1252.1 1092.0,1252.9 1093.5,1251.8 1095.1,1252.9 1096.7,1251.6 1098.3,1252.9 1099.9,1252.1 1098.3,1252.5 1096.9,1251.5 1095.3,1252.2 1093.8,1251.3 1092.3,1252.1 1090.8,1251.2 1089.2,1252.0 1087.8,1250.8 1086.2,1251.9 1084.8,1250.8 1083.2,1251.7 1081.7,1250.5 1080.2,1251.6 1078.7,1250.3 1077.1,1251.4 1075.7,1250.3ZM1214.1,1237.2 1214.2,1238.9 1213.1,1240.3 1211.5,1240.4 1210.0,1239.5 1208.4,1240.3 1206.9,1239.4 1205.3,1240.2 1203.8,1239.4 1202.2,1240.2 1200.7,1239.3 1199.1,1240.0 1197.6,1239.1 1196.1,1239.7 1194.5,1239.2 1196.0,1238.6 1197.6,1239.4 1199.0,1238.2 1200.6,1239.0 1202.0,1237.8 1203.6,1238.5 1205.0,1237.8 1206.6,1238.4 1208.0,1237.3 1209.6,1238.2 1211.0,1236.8 1212.6,1237.7ZM1153.6,1265.7 1155.2,1264.8 1157.1,1265.5 1158.7,1264.6 1159.3,1266.4 1158.8,1268.3 1159.9,1270.0 1159.8,1271.8 1157.9,1272.0 1156.4,1270.7 1154.6,1270.8 1154.0,1269.2 1154.3,1267.3ZM1110.3,1258.9 1111.8,1257.9 1113.7,1258.0 1115.0,1256.5 1117.1,1257.1 1118.5,1255.9 1118.8,1257.7 1117.5,1259.2 1118.0,1261.1 1116.9,1262.7 1117.2,1264.5 1116.5,1266.1 1115.2,1265.2 1114.8,1263.4 1113.0,1262.9 1112.7,1261.0 1111.1,1260.3ZM1157.4,1248.1 1159.1,1248.3 1160.1,1249.9 1162.0,1249.4 1163.0,1251.0 1164.6,1251.2 1164.0,1252.9 1162.1,1253.7 1161.8,1255.7 1160.1,1256.7 1159.5,1258.4 1158.9,1256.8 1159.4,1254.9 1157.9,1253.4 1158.4,1251.5 1157.5,1249.9ZM1122.0,1287.6 1123.7,1287.3 1125.0,1288.7 1126.6,1288.7 1126.9,1290.5 1125.6,1292.2 1126.3,1294.1 1125.6,1295.9 1124.6,1294.3 1124.7,1292.4 1123.1,1291.1 1123.1,1289.1ZM1153.6,1304.0 1155.2,1303.1 1157.2,1304.0 1158.8,1303.0 1159.0,1304.8 1158.1,1306.6 1159.0,1308.4 1158.3,1310.2 1157.0,1309.2 1156.9,1307.3 1155.1,1306.7 1154.8,1305.1ZM1093.4,1288.2 1095.1,1287.3 1097.2,1287.8 1098.7,1286.1 1100.6,1286.1 1100.6,1287.8 1098.7,1288.6 1098.6,1290.2 1096.7,1290.0 1095.3,1288.5ZM1182.0,1278.0 1183.8,1277.4 1185.7,1277.8 1187.4,1276.9 1189.2,1277.0 1188.5,1278.6 1186.6,1279.4 1186.1,1281.1 1184.6,1280.4 1183.6,1278.8ZM1179.2,1309.0 1180.9,1308.4 1182.7,1308.6 1184.3,1308.0 1184.2,1309.9 1182.6,1311.2 1182.3,1313.1 1180.9,1312.0 1180.7,1310.0ZM1111.1,1319.2 1112.6,1318.0 1114.6,1318.1 1116.2,1317.1 1116.3,1318.9 1114.7,1320.0 1115.2,1321.9 1114.2,1323.3 1112.8,1322.2 1112.6,1320.2ZM1093.9,1252.0L1109.4,1251.5L1094.0,1249.7ZM1076.3,1240.7L1080.3,1238.4L1075.7,1238.4ZM1071.3,1231.8L1074.5,1229.8L1070.5,1229.5ZM1061.5,1221.6L1064.1,1218.3L1060.0,1219.6ZM1056.6,1210.6L1060.5,1209.8L1056.8,1208.6ZM1076.9,1195.3L1075.1,1198.5L1078.6,1197.2ZM1087.3,1204.5L1085.6,1207.6L1088.7,1205.9ZM1094.3,1213.4L1093.1,1217.7L1096.5,1214.6ZM1101.6,1218.6L1099.0,1221.1L1102.8,1220.3ZM1106.5,1225.6L1102.5,1226.4L1106.0,1227.8ZM1102.6,1235.9L1098.7,1235.6L1102.2,1238.0ZM1106.7,1246.0L1108.4,1264.8L1109.1,1246.1ZM1122.9,1213.9L1127.5,1215.3L1124.7,1212.0ZM1145.6,1214.8L1142.6,1217.4L1146.4,1216.9ZM1149.9,1230.3L1146.4,1232.2L1150.0,1232.8ZM1151.7,1234.7L1153.5,1238.4L1153.5,1234.3ZM1154.3,1229.8L1158.9,1228.8L1154.5,1228.0ZM1164.4,1222.9L1165.6,1240.8L1166.9,1222.9ZM1171.4,1225.2L1167.3,1237.2L1173.4,1225.8ZM1174.5,1224.2L1178.2,1225.9L1175.8,1222.4ZM1177.6,1216.0L1180.9,1215.3L1177.5,1213.9ZM1177.2,1202.7L1179.1,1206.8L1179.2,1202.0ZM1217.0,1199.8L1212.3,1200.7L1216.6,1202.0ZM1213.2,1212.7L1209.6,1213.2L1212.6,1215.0ZM1210.7,1226.1L1207.1,1224.6L1209.9,1227.7ZM1203.1,1235.8L1200.6,1233.0L1201.1,1236.9ZM1198.6,1238.2L1185.0,1241.5L1199.0,1240.1ZM1205.5,1251.6L1190.9,1250.2L1204.9,1253.3ZM1200.7,1260.2L1192.5,1250.4L1198.4,1261.3ZM1196.1,1262.5L1178.0,1261.9L1196.4,1264.8ZM1204.1,1275.7L1188.6,1277.9L1203.8,1277.7ZM1204.4,1283.9L1191.2,1274.3L1203.1,1285.8ZM1196.4,1290.1L1190.9,1272.6L1194.7,1290.7ZM1187.3,1297.2L1170.3,1299.7L1187.2,1299.8ZM1189.9,1308.0L1171.7,1304.8L1189.6,1309.8ZM1191.5,1317.3L1177.6,1312.6L1190.4,1319.2ZM1189.0,1324.1L1177.1,1315.1L1187.6,1325.6ZM1184.8,1327.6L1179.7,1313.3L1182.8,1327.8ZM1178.3,1325.4L1182.4,1310.7L1175.7,1324.9ZM1171.5,1321.7L1173.3,1308.3L1169.4,1320.8ZM1164.9,1318.0L1170.8,1304.6L1162.7,1316.6ZM1158.4,1312.7L1163.2,1303.1L1156.5,1311.6ZM1155.7,1312.2L1142.7,1303.3L1154.1,1314.2ZM1147.4,1323.8L1146.6,1309.2L1145.4,1323.9ZM1133.0,1312.6L1135.8,1297.2L1130.9,1311.9ZM1128.6,1313.2L1117.4,1305.2L1127.4,1315.4ZM1124.8,1320.5L1114.2,1308.1L1122.8,1321.8ZM1119.3,1327.3L1114.5,1314.9L1117.6,1328.0ZM1111.7,1331.3L1108.7,1313.2L1109.4,1331.8ZM1105.0,1335.5L1104.4,1317.4L1102.8,1335.4ZM1098.8,1337.3L1109.8,1328.7L1097.3,1335.4ZM1097.9,1329.3L1113.4,1330.6L1097.8,1326.8ZM1100.2,1319.7L1112.7,1321.6L1100.7,1317.8ZM1105.2,1311.0L1115.8,1324.4L1106.8,1309.9ZM1109.7,1306.1L1125.8,1301.8L1109.2,1304.2ZM1106.3,1303.3L1106.5,1291.0L1104.2,1303.3ZM1099.2,1299.9L1109.4,1285.0L1097.4,1298.7ZM1091.4,1297.4L1101.0,1283.6L1089.6,1295.9ZM1084.4,1293.4L1096.9,1286.4L1083.3,1291.8ZM1081.1,1288.0L1098.5,1289.0L1081.1,1285.7ZM1085.9,1280.8L1098.7,1287.3L1086.9,1279.1ZM1092.2,1275.8L1104.3,1285.0L1093.4,1273.8ZM1091.6,1271.5L1098.8,1258.6L1089.7,1270.6ZM1085.6,1267.8L1101.7,1259.3L1084.6,1265.7ZM1080.0,1262.6L1097.0,1255.1L1079.7,1260.0ZM1082.1,1256.5L1099.9,1262.9L1082.8,1254.8Z" fill="#000"/></mask><g mask="url(#pm7)"><rect x="1049" y="1174" width="177" height="178" fill="#4fb041"/><path d="M1121.9,1240.0 1124.3,1237.5 1122.5,1235.6 1124.9,1233.5 1123.0,1230.7 1125.3,1229.5 1123.5,1228.1 1125.7,1225.5 1124.6,1223.3 1126.6,1221.6 1125.0,1219.3 1127.1,1217.6 1125.5,1215.3 1127.3,1214.1 1128.6,1211.9 1131.2,1213.0 1133.4,1210.1 1135.1,1211.7 1136.7,1209.2 1138.8,1210.2 1141.2,1207.7 1142.1,1208.6 1144.1,1209.9 1143.0,1212.4 1145.2,1214.2 1144.5,1216.1 1146.7,1216.6 1145.4,1219.9 1147.9,1221.3 1146.7,1223.6 1149.0,1225.7 1147.8,1227.3 1150.1,1229.9 1148.4,1231.0 1150.4,1233.1 1148.2,1234.8 1150.2,1236.0 1148.5,1238.7 1149.9,1240.0 1148.3,1242.5 1150.0,1244.2 1148.6,1246.4 1150.5,1248.3 1148.5,1250.2 1150.3,1251.4 1148.4,1254.2 1150.2,1256.7 1148.0,1258.3 1149.2,1260.9 1147.8,1262.4 1149.2,1264.1 1147.4,1266.5 1148.9,1267.8 1147.0,1270.6 1148.8,1271.9 1147.4,1274.8 1149.4,1276.7 1147.4,1278.9 1149.5,1279.8 1147.8,1282.9 1149.2,1285.3 1148.0,1287.0 1149.7,1289.5 1148.1,1291.1 1150.0,1292.1 1148.2,1295.2 1149.8,1297.9 1147.6,1298.9 1148.1,1302.3 1145.6,1302.6 1146.6,1305.8 1143.9,1306.5 1143.7,1310.2 1143.1,1306.9 1140.8,1307.1 1140.6,1304.3 1137.8,1304.5 1139.2,1301.5 1137.5,1300.7 1138.4,1297.7 1136.5,1295.6 1137.4,1293.9 1135.8,1292.4 1137.1,1290.0 1134.7,1288.0 1136.2,1286.2 1134.2,1285.4 1135.7,1282.3 1133.9,1280.2 1134.8,1278.4 1132.3,1276.2 1133.5,1274.7 1131.2,1273.0 1132.3,1271.0 1130.1,1269.9 1131.4,1267.1 1129.0,1266.2 1130.1,1263.5 1128.2,1262.8 1129.0,1259.7 1126.4,1257.4 1128.0,1256.0 1125.8,1254.3 1127.2,1252.2 1124.6,1250.0 1126.3,1248.5 1123.7,1247.3 1125.3,1244.8 1123.3,1243.2 1124.3,1241.0Z" fill="#3b9a32" opacity="0.25"/></g><path d="M1152.8,1324.1L1163.1,1290.7M1163.1,1290.7L1178.5,1239.3M1178.5,1239.3L1190.1,1216.2M1132.2,1311.3L1122.0,1284.3M1122.0,1284.3L1107.8,1257.3M1107.8,1257.3L1093.7,1234.2" stroke="#7fca70" stroke-width="0.9" fill="none" stroke-linecap="round" opacity="0.8"/><path d="M1145.1,1346.0L1132.2,1311.3M1145.1,1346.0L1152.8,1324.1" stroke="#7fca70" stroke-width="2.0" fill="none" stroke-linecap="round"/>
</svg>
</body></html>
